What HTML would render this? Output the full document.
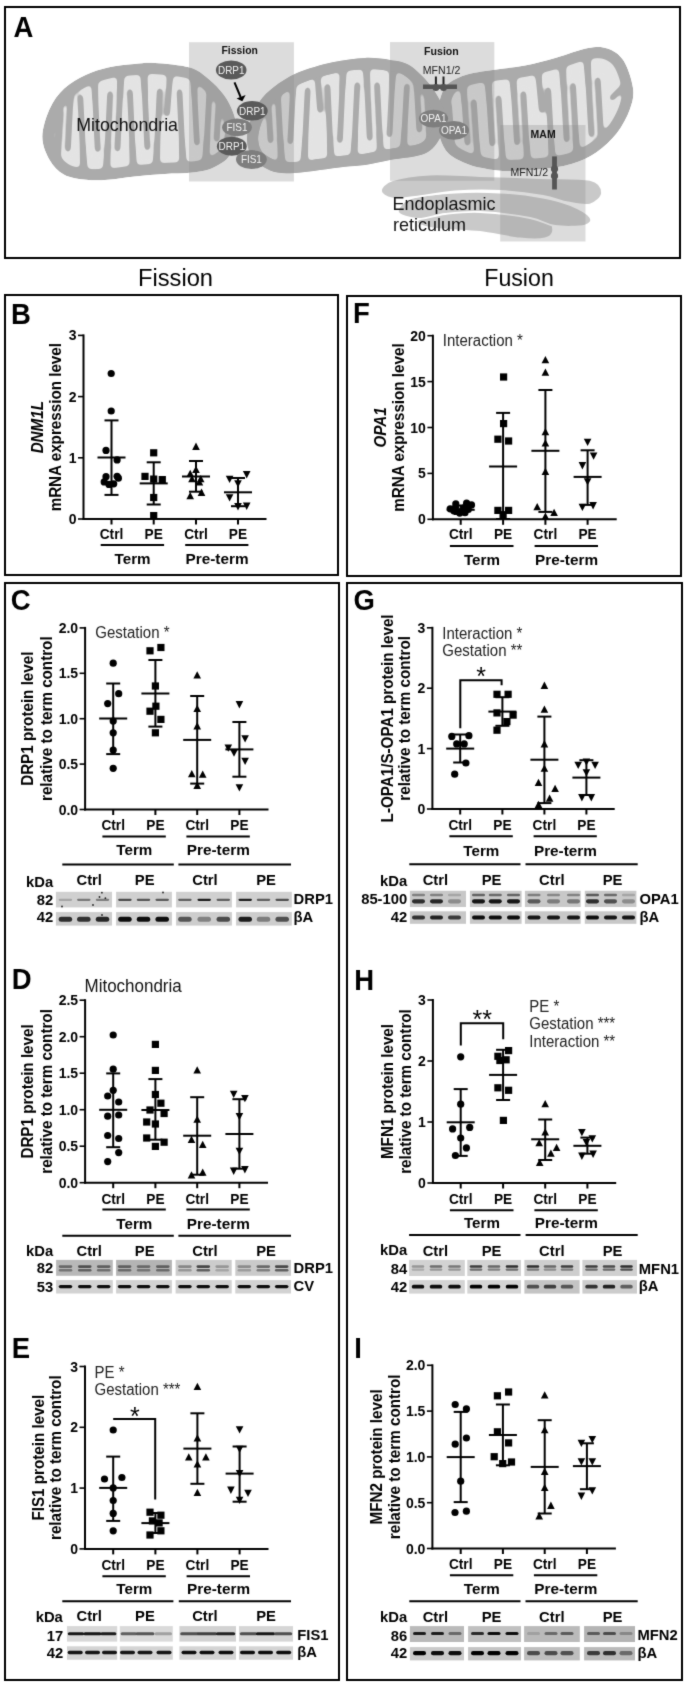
<!DOCTYPE html><html><head><meta charset="utf-8"><style>html,body{margin:0;padding:0;background:#fff;}svg{display:block;}#w{width:685px;height:1683px;overflow:hidden;will-change:transform;}</style></head><body><div id="w">
<svg width="685" height="1683" viewBox="0 0 685 1683" font-family='"Liberation Sans", sans-serif'>
<defs><filter id="gb" color-interpolation-filters="sRGB" x="0" y="0" width="685" height="1683" filterUnits="userSpaceOnUse"><feConvolveMatrix order="3" kernelMatrix="0.02 0.08 0.02 0.08 0.6 0.08 0.02 0.08 0.02" edgeMode="duplicate"/></filter></defs>
<g filter="url(#gb)">
<rect width="685" height="1683" fill="#fff"/>
<rect x="5.0" y="7.0" width="675" height="251" fill="none" stroke="#000" stroke-width="2"/>
<rect x="5.0" y="295.0" width="333" height="280" fill="none" stroke="#000" stroke-width="2"/>
<rect x="347.0" y="296.0" width="334" height="280" fill="none" stroke="#000" stroke-width="2"/>
<rect x="5.0" y="583.0" width="334" height="1097" fill="none" stroke="#000" stroke-width="2"/>
<rect x="347.0" y="583.0" width="335" height="1097" fill="none" stroke="#000" stroke-width="2"/>
<text transform="translate(13.6 36.5) scale(1 1.04)" font-size="27.5" font-weight="bold" text-anchor="start" fill="#000">A</text>
<text transform="translate(10.9 323.5) scale(1 1.04)" font-size="27.5" font-weight="bold" text-anchor="start" fill="#000">B</text>
<text transform="translate(353.1 323.3) scale(1 1.04)" font-size="27.5" font-weight="bold" text-anchor="start" fill="#000">F</text>
<text transform="translate(10.8 609.8) scale(1 1.04)" font-size="27.5" font-weight="bold" text-anchor="start" fill="#000">C</text>
<text transform="translate(353.4 609.8) scale(1 1.04)" font-size="27.5" font-weight="bold" text-anchor="start" fill="#000">G</text>
<text transform="translate(11.7 988.8) scale(1 1.04)" font-size="27.5" font-weight="bold" text-anchor="start" fill="#000">D</text>
<text transform="translate(354.2 989.8) scale(1 1.04)" font-size="27.5" font-weight="bold" text-anchor="start" fill="#000">H</text>
<text transform="translate(11.7 1357.8) scale(1 1.04)" font-size="27.5" font-weight="bold" text-anchor="start" fill="#000">E</text>
<text transform="translate(354.2 1357.5) scale(1 1.04)" font-size="27.5" font-weight="bold" text-anchor="start" fill="#000">I</text>
<text transform="translate(175.5 285.5) scale(1 1.04)" font-size="23" font-weight="normal" text-anchor="middle" fill="#000" textLength="75" lengthAdjust="spacingAndGlyphs">Fission</text>
<text transform="translate(519 285.5) scale(1 1.04)" font-size="23" font-weight="normal" text-anchor="middle" fill="#000" textLength="69.5" lengthAdjust="spacingAndGlyphs">Fusion</text>
<defs><filter id="smooth" x="0" y="0" width="685" height="300" filterUnits="userSpaceOnUse"><feGaussianBlur stdDeviation="2.0"/><feComponentTransfer><feFuncA type="linear" slope="6" intercept="-2.6"/></feComponentTransfer></filter></defs>
<path d="M417.0,222.0C417.0,219.8 421.2,216.8 430.0,215.0C438.8,213.2 458.3,211.9 470.0,211.0C481.7,210.1 490.8,209.3 500.0,209.5C509.2,209.7 517.0,210.5 525.0,212.0C533.0,213.5 543.3,215.2 548.0,218.5C552.7,221.8 553.5,228.2 553.0,231.5C552.5,234.8 550.5,237.3 545.0,238.5C539.5,239.7 530.8,239.6 520.0,238.5C509.2,237.4 491.7,233.4 480.0,232.0C468.3,230.6 458.3,230.7 450.0,230.0C441.7,229.3 435.5,229.3 430.0,228.0C424.5,226.7 417.0,224.2 417.0,222.0Z" fill="#c9c9c9" stroke="#fff" stroke-width="1.8"/>
<path d="M398.0,212.0C397.0,208.5 402.5,201.2 412.0,198.0C421.5,194.8 440.3,193.4 455.0,192.5C469.7,191.6 485.3,191.7 500.0,192.5C514.7,193.3 531.3,195.4 543.0,197.5C554.7,199.6 562.2,201.8 570.0,205.0C577.8,208.2 587.5,213.6 590.0,217.0C592.5,220.4 590.8,224.0 585.0,225.5C579.2,227.0 564.2,227.2 555.0,226.0C545.8,224.8 542.5,220.3 530.0,218.0C517.5,215.7 494.2,212.7 480.0,212.0C465.8,211.3 455.3,212.8 445.0,214.0C434.7,215.2 425.8,219.3 418.0,219.0C410.2,218.7 399.0,215.5 398.0,212.0Z" fill="#c9c9c9" stroke="#fff" stroke-width="1.8"/>
<path d="M381.0,191.0C381.0,188.0 383.8,183.2 392.0,180.5C400.2,177.8 415.3,175.2 430.0,174.5C444.7,173.8 461.7,175.4 480.0,176.0C498.3,176.6 521.7,177.3 540.0,178.0C558.3,178.7 579.7,177.5 590.0,180.0C600.3,182.5 602.0,188.9 602.0,193.0C602.0,197.1 595.7,202.9 590.0,204.5C584.3,206.1 575.8,203.9 568.0,202.5C560.2,201.1 554.3,197.9 543.0,196.0C531.7,194.1 514.7,191.8 500.0,191.0C485.3,190.2 469.2,190.5 455.0,191.5C440.8,192.5 425.5,195.8 415.0,197.0C404.5,198.2 397.7,199.5 392.0,198.5C386.3,197.5 381.0,194.0 381.0,191.0Z" fill="#c9c9c9" stroke="#fff" stroke-width="1.8"/>
<clipPath id="mL"><path d="M42.3,136.8C42.3,128.3 46.0,117.0 49.6,109.0C53.2,101.0 58.1,94.3 64.2,88.6C70.3,82.9 78.8,78.2 86.1,74.7C93.4,71.2 100.0,69.2 108.0,67.4C116.0,65.6 126.5,64.8 134.3,64.0C142.1,63.2 145.7,62.3 155.0,62.9C164.3,63.5 181.2,64.9 190.0,67.5C198.8,70.1 202.3,73.9 208.0,78.5C213.7,83.1 219.8,89.4 224.0,95.0C228.2,100.6 230.9,106.5 233.0,112.0C235.1,117.5 236.3,122.5 236.5,128.0C236.7,133.5 235.3,140.2 234.0,145.0C232.7,149.8 230.8,153.8 228.5,157.0C226.2,160.2 223.4,161.9 220.0,164.0C216.6,166.1 213.0,168.2 208.0,169.7C203.0,171.2 197.2,172.1 190.0,172.8C182.8,173.5 174.2,173.4 165.0,174.0C155.8,174.6 144.5,175.5 135.0,176.5C125.5,177.5 116.2,179.2 108.0,179.8C99.8,180.4 93.4,180.7 86.1,179.8C78.8,179.0 70.3,178.0 64.2,174.7C58.1,171.4 53.2,166.3 49.6,160.0C46.0,153.7 42.3,145.3 42.3,136.8Z"/></clipPath>
<mask id="mLm" maskUnits="userSpaceOnUse" x="0" y="0" width="685" height="300"><path d="M42.3,136.8C42.3,128.3 46.0,117.0 49.6,109.0C53.2,101.0 58.1,94.3 64.2,88.6C70.3,82.9 78.8,78.2 86.1,74.7C93.4,71.2 100.0,69.2 108.0,67.4C116.0,65.6 126.5,64.8 134.3,64.0C142.1,63.2 145.7,62.3 155.0,62.9C164.3,63.5 181.2,64.9 190.0,67.5C198.8,70.1 202.3,73.9 208.0,78.5C213.7,83.1 219.8,89.4 224.0,95.0C228.2,100.6 230.9,106.5 233.0,112.0C235.1,117.5 236.3,122.5 236.5,128.0C236.7,133.5 235.3,140.2 234.0,145.0C232.7,149.8 230.8,153.8 228.5,157.0C226.2,160.2 223.4,161.9 220.0,164.0C216.6,166.1 213.0,168.2 208.0,169.7C203.0,171.2 197.2,172.1 190.0,172.8C182.8,173.5 174.2,173.4 165.0,174.0C155.8,174.6 144.5,175.5 135.0,176.5C125.5,177.5 116.2,179.2 108.0,179.8C99.8,180.4 93.4,180.7 86.1,179.8C78.8,179.0 70.3,178.0 64.2,174.7C58.1,171.4 53.2,166.3 49.6,160.0C46.0,153.7 42.3,145.3 42.3,136.8Z" fill="#fff" stroke="#000" stroke-width="22"/>
<g stroke="#000" stroke-width="5.6" stroke-linecap="round" fill="none">
<path d="M56.5,176.5L60.5,111.3"/>
<path d="M71.9,70.6L67.9,149.5"/>
<path d="M84.3,178.7L80.3,96.7"/>
<path d="M93.7,65.3L97.7,149.8"/>
<path d="M106.1,179.5L110.1,93.2"/>
<path d="M121.5,61.9L117.5,149.3"/>
<path d="M133.9,178.9L129.9,91.2"/>
<path d="M143.3,60.5L147.3,148.0"/>
<path d="M155.7,177.0L159.7,90.5"/>
<path d="M171.1,61.1L167.1,114.1"/>
<path d="M183.5,173.8L179.5,91.2"/>
<path d="M192.9,63.7L196.9,143.3"/>
<path d="M205.3,169.2L209.3,93.3"/>
<path d="M220.7,68.2L216.7,139.7"/>
</g><g fill="#000">
<path d="M60.5,176.8L61.0,149.3L55.4,148.9L52.5,176.3Z"/>
<path d="M67.9,70.4L67.4,103.6L73.0,103.9L75.9,70.8Z"/>
<path d="M88.3,178.5L85.4,144.1L79.8,144.4L80.3,178.9Z"/>
<path d="M89.7,65.5L92.6,100.9L98.2,100.7L97.7,65.1Z"/>
<path d="M110.1,179.7L110.6,143.4L105.0,143.1L102.1,179.3Z"/>
<path d="M117.5,61.8L117.0,98.5L122.6,98.8L125.5,62.1Z"/>
<path d="M137.9,178.8L135.0,142.0L129.4,142.2L129.9,179.1Z"/>
<path d="M139.3,60.7L142.2,97.4L147.8,97.2L147.3,60.4Z"/>
<path d="M159.7,177.2L160.2,140.8L154.6,140.6L151.7,176.9Z"/>
<path d="M167.1,60.8L166.6,83.2L172.2,83.6L175.1,61.4Z"/>
<path d="M187.5,173.6L184.6,139.0L179.0,139.2L179.5,174.0Z"/>
<path d="M188.9,63.9L191.8,97.2L197.4,96.9L196.9,63.5Z"/>
<path d="M209.3,169.4L209.8,137.4L204.2,137.2L201.3,169.0Z"/>
<path d="M216.7,67.9L216.2,98.1L221.8,98.4L224.7,68.4Z"/>
</g></mask>
<g clip-path="url(#mL)">
<path d="M42.3,136.8C42.3,128.3 46.0,117.0 49.6,109.0C53.2,101.0 58.1,94.3 64.2,88.6C70.3,82.9 78.8,78.2 86.1,74.7C93.4,71.2 100.0,69.2 108.0,67.4C116.0,65.6 126.5,64.8 134.3,64.0C142.1,63.2 145.7,62.3 155.0,62.9C164.3,63.5 181.2,64.9 190.0,67.5C198.8,70.1 202.3,73.9 208.0,78.5C213.7,83.1 219.8,89.4 224.0,95.0C228.2,100.6 230.9,106.5 233.0,112.0C235.1,117.5 236.3,122.5 236.5,128.0C236.7,133.5 235.3,140.2 234.0,145.0C232.7,149.8 230.8,153.8 228.5,157.0C226.2,160.2 223.4,161.9 220.0,164.0C216.6,166.1 213.0,168.2 208.0,169.7C203.0,171.2 197.2,172.1 190.0,172.8C182.8,173.5 174.2,173.4 165.0,174.0C155.8,174.6 144.5,175.5 135.0,176.5C125.5,177.5 116.2,179.2 108.0,179.8C99.8,180.4 93.4,180.7 86.1,179.8C78.8,179.0 70.3,178.0 64.2,174.7C58.1,171.4 53.2,166.3 49.6,160.0C46.0,153.7 42.3,145.3 42.3,136.8Z" fill="#ababab"/>
<g filter="url(#smooth)"><g mask="url(#mLm)"><rect x="0" y="30" width="685" height="170" fill="#e3e3e3"/></g></g>
</g>
<clipPath id="mM"><path d="M247.0,140.0C246.8,133.7 248.8,125.5 251.0,119.0C253.2,112.5 256.2,106.3 260.0,101.0C263.8,95.7 267.7,91.7 274.0,87.0C280.3,82.3 287.8,76.9 297.6,72.8C307.4,68.7 321.4,64.8 332.6,62.3C343.8,59.8 355.4,58.3 365.0,57.9C374.6,57.5 382.8,58.8 390.0,59.9C397.2,61.0 402.2,61.3 408.0,64.5C413.8,67.7 420.0,73.6 425.0,79.0C430.0,84.4 434.5,90.5 438.0,97.0C441.5,103.5 445.7,111.2 446.0,118.0C446.3,124.8 443.5,132.1 440.0,138.0C436.5,143.9 433.3,149.8 425.0,153.5C416.7,157.2 400.0,158.1 390.0,160.0C380.0,161.9 372.5,163.9 365.0,165.0C357.5,166.1 352.5,165.9 345.0,166.7C337.5,167.5 328.3,168.9 320.0,170.0C311.7,171.1 302.1,172.6 295.0,173.0C287.9,173.4 282.9,173.6 277.6,172.6C272.4,171.6 267.8,169.6 263.5,167.0C259.2,164.4 254.8,161.5 252.0,157.0C249.2,152.5 247.2,146.3 247.0,140.0Z"/></clipPath>
<mask id="mMm" maskUnits="userSpaceOnUse" x="0" y="0" width="685" height="300"><path d="M247.0,140.0C246.8,133.7 248.8,125.5 251.0,119.0C253.2,112.5 256.2,106.3 260.0,101.0C263.8,95.7 267.7,91.7 274.0,87.0C280.3,82.3 287.8,76.9 297.6,72.8C307.4,68.7 321.4,64.8 332.6,62.3C343.8,59.8 355.4,58.3 365.0,57.9C374.6,57.5 382.8,58.8 390.0,59.9C397.2,61.0 402.2,61.3 408.0,64.5C413.8,67.7 420.0,73.6 425.0,79.0C430.0,84.4 434.5,90.5 438.0,97.0C441.5,103.5 445.7,111.2 446.0,118.0C446.3,124.8 443.5,132.1 440.0,138.0C436.5,143.9 433.3,149.8 425.0,153.5C416.7,157.2 400.0,158.1 390.0,160.0C380.0,161.9 372.5,163.9 365.0,165.0C357.5,166.1 352.5,165.9 345.0,166.7C337.5,167.5 328.3,168.9 320.0,170.0C311.7,171.1 302.1,172.6 295.0,173.0C287.9,173.4 282.9,173.6 277.6,172.6C272.4,171.6 267.8,169.6 263.5,167.0C259.2,164.4 254.8,161.5 252.0,157.0C249.2,152.5 247.2,146.3 247.0,140.0Z" fill="#fff" stroke="#000" stroke-width="22"/>
<g stroke="#000" stroke-width="5.6" stroke-linecap="round" fill="none">
<path d="M266.5,72.3L270.5,141.1"/>
<path d="M281.9,169.0L277.9,95.0"/>
<path d="M294.3,64.0L290.3,142.2"/>
<path d="M303.7,171.1L307.7,89.6"/>
<path d="M316.1,58.3L320.1,110.7"/>
<path d="M331.5,171.3L327.5,86.0"/>
<path d="M343.9,55.2L339.9,140.9"/>
<path d="M353.3,169.6L357.3,84.2"/>
<path d="M365.7,54.6L369.7,138.6"/>
<path d="M381.1,165.8L377.1,84.2"/>
<path d="M393.5,56.7L389.5,135.1"/>
<path d="M402.9,160.1L406.9,85.9"/>
<path d="M415.3,61.3L419.3,130.4"/>
<path d="M430.7,152.4L426.7,89.3"/>
</g><g fill="#000">
<path d="M262.5,72.5L265.4,101.4L271.0,101.0L270.5,72.0Z"/>
<path d="M285.9,168.8L283.0,137.8L277.4,138.1L277.9,169.2Z"/>
<path d="M290.3,63.8L289.8,96.7L295.4,97.0L298.3,64.2Z"/>
<path d="M307.7,171.3L308.2,137.0L302.6,136.8L299.7,171.0Z"/>
<path d="M312.1,58.6L315.0,80.5L320.6,80.1L320.1,58.0Z"/>
<path d="M335.5,171.2L332.6,135.4L327.0,135.6L327.5,171.5Z"/>
<path d="M339.9,55.0L339.4,91.1L345.0,91.3L347.9,55.3Z"/>
<path d="M357.3,169.7L357.8,133.8L352.2,133.6L349.3,169.4Z"/>
<path d="M361.7,54.8L364.6,90.0L370.2,89.7L369.7,54.4Z"/>
<path d="M385.1,165.6L382.2,131.4L376.6,131.7L377.1,166.0Z"/>
<path d="M389.5,56.4L389.0,89.4L394.6,89.7L397.5,56.9Z"/>
<path d="M406.9,160.3L407.4,129.1L401.8,128.8L398.9,159.9Z"/>
<path d="M411.3,61.5L414.2,90.5L419.8,90.1L419.3,61.0Z"/>
<path d="M434.7,152.2L431.8,125.7L426.2,126.1L426.7,152.7Z"/>
</g></mask>
<g clip-path="url(#mM)">
<path d="M247.0,140.0C246.8,133.7 248.8,125.5 251.0,119.0C253.2,112.5 256.2,106.3 260.0,101.0C263.8,95.7 267.7,91.7 274.0,87.0C280.3,82.3 287.8,76.9 297.6,72.8C307.4,68.7 321.4,64.8 332.6,62.3C343.8,59.8 355.4,58.3 365.0,57.9C374.6,57.5 382.8,58.8 390.0,59.9C397.2,61.0 402.2,61.3 408.0,64.5C413.8,67.7 420.0,73.6 425.0,79.0C430.0,84.4 434.5,90.5 438.0,97.0C441.5,103.5 445.7,111.2 446.0,118.0C446.3,124.8 443.5,132.1 440.0,138.0C436.5,143.9 433.3,149.8 425.0,153.5C416.7,157.2 400.0,158.1 390.0,160.0C380.0,161.9 372.5,163.9 365.0,165.0C357.5,166.1 352.5,165.9 345.0,166.7C337.5,167.5 328.3,168.9 320.0,170.0C311.7,171.1 302.1,172.6 295.0,173.0C287.9,173.4 282.9,173.6 277.6,172.6C272.4,171.6 267.8,169.6 263.5,167.0C259.2,164.4 254.8,161.5 252.0,157.0C249.2,152.5 247.2,146.3 247.0,140.0Z" fill="#ababab"/>
<g filter="url(#smooth)"><g mask="url(#mMm)"><rect x="0" y="30" width="685" height="170" fill="#e3e3e3"/></g></g>
</g>
<clipPath id="mR"><path d="M437.0,118.0C437.2,111.0 439.0,101.8 441.0,96.0C443.0,90.2 444.5,86.6 449.0,83.0C453.5,79.4 460.1,76.5 468.0,74.2C475.9,71.9 486.9,70.8 496.4,69.4C505.9,68.0 515.0,67.5 524.9,65.6C534.8,63.6 545.5,60.6 556.0,57.7C566.5,54.8 579.6,49.5 588.2,48.0C596.8,46.5 601.5,46.4 607.4,48.5C613.3,50.6 619.2,53.9 623.5,60.5C627.8,67.1 631.9,79.9 633.0,88.0C634.1,96.1 632.7,101.5 630.0,109.0C627.3,116.5 622.6,125.8 617.0,133.0C611.4,140.2 603.7,147.3 596.2,152.4C588.7,157.5 581.5,160.9 572.1,163.7C562.7,166.5 551.0,168.1 540.0,169.3C529.0,170.5 514.8,171.1 506.0,171.0C497.2,170.9 493.3,170.1 487.0,169.0C480.7,167.9 474.3,166.8 468.0,164.3C461.7,161.8 453.7,158.4 449.0,154.0C444.3,149.6 442.0,144.0 440.0,138.0C438.0,132.0 436.8,125.0 437.0,118.0Z"/></clipPath>
<mask id="mRm" maskUnits="userSpaceOnUse" x="0" y="0" width="685" height="300"><path d="M437.0,118.0C437.2,111.0 439.0,101.8 441.0,96.0C443.0,90.2 444.5,86.6 449.0,83.0C453.5,79.4 460.1,76.5 468.0,74.2C475.9,71.9 486.9,70.8 496.4,69.4C505.9,68.0 515.0,67.5 524.9,65.6C534.8,63.6 545.5,60.6 556.0,57.7C566.5,54.8 579.6,49.5 588.2,48.0C596.8,46.5 601.5,46.4 607.4,48.5C613.3,50.6 619.2,53.9 623.5,60.5C627.8,67.1 631.9,79.9 633.0,88.0C634.1,96.1 632.7,101.5 630.0,109.0C627.3,116.5 622.6,125.8 617.0,133.0C611.4,140.2 603.7,147.3 596.2,152.4C588.7,157.5 581.5,160.9 572.1,163.7C562.7,166.5 551.0,168.1 540.0,169.3C529.0,170.5 514.8,171.1 506.0,171.0C497.2,170.9 493.3,170.1 487.0,169.0C480.7,167.9 474.3,166.8 468.0,164.3C461.7,161.8 453.7,158.4 449.0,154.0C444.3,149.6 442.0,144.0 440.0,138.0C438.0,132.0 436.8,125.0 437.0,118.0Z" fill="#fff" stroke="#000" stroke-width="22"/>
<g stroke="#000" stroke-width="5.6" stroke-linecap="round" fill="none">
<path d="M453.8,168.9L449.0,104.7"/>
<path d="M462.6,75.6L467.4,143.5"/>
<path d="M478.6,172.4L473.8,101.4"/>
<path d="M487.4,70.7L492.2,144.3"/>
<path d="M503.4,173.5L498.6,97.6"/>
<path d="M512.2,65.7L517.0,143.2"/>
<path d="M528.2,172.1L523.4,93.4"/>
<path d="M537.0,60.7L541.8,110.7"/>
<path d="M553.0,173.1L548.2,89.6"/>
<path d="M561.8,55.8L566.6,140.2"/>
<path d="M577.8,169.6L573.0,85.0"/>
<path d="M586.6,50.8L591.4,134.9"/>
<path d="M602.6,162.4L597.8,79.6"/>
<path d="M640.0,70.0L612.0,98.0"/>
<path d="M600.0,175.0L612.0,128.0"/>
</g><g fill="#000">
<path d="M457.8,168.6L454.6,141.7L449.0,142.1L449.8,169.2Z"/>
<path d="M458.6,75.9L461.8,104.3L467.4,103.9L466.6,75.3Z"/>
<path d="M482.6,172.2L479.4,142.4L473.8,142.8L474.6,172.7Z"/>
<path d="M483.4,70.9L486.6,101.8L492.2,101.4L491.4,70.4Z"/>
<path d="M507.4,173.2L504.2,141.5L498.6,141.8L499.4,173.7Z"/>
<path d="M508.2,65.9L511.4,98.4L517.0,98.1L516.2,65.5Z"/>
<path d="M532.2,171.9L529.0,138.9L523.4,139.2L524.2,172.3Z"/>
<path d="M533.0,61.1L536.2,82.0L541.8,81.5L541.0,60.4Z"/>
<path d="M557.0,172.9L553.8,137.9L548.2,138.2L549.0,173.4Z"/>
<path d="M557.8,56.0L561.0,91.4L566.6,91.1L565.8,55.6Z"/>
<path d="M581.8,169.4L578.6,133.9L573.0,134.2L573.8,169.8Z"/>
<path d="M582.6,51.0L585.8,86.3L591.4,86.0L590.6,50.6Z"/>
<path d="M606.6,162.2L603.4,127.4L597.8,127.8L598.6,162.6Z"/>
<path d="M637.2,67.2L626.3,79.8L630.2,83.7L642.8,72.8Z"/>
<path d="M603.9,176.0L607.8,156.0L602.3,154.6L596.1,174.0Z"/>
</g></mask>
<g clip-path="url(#mR)">
<path d="M437.0,118.0C437.2,111.0 439.0,101.8 441.0,96.0C443.0,90.2 444.5,86.6 449.0,83.0C453.5,79.4 460.1,76.5 468.0,74.2C475.9,71.9 486.9,70.8 496.4,69.4C505.9,68.0 515.0,67.5 524.9,65.6C534.8,63.6 545.5,60.6 556.0,57.7C566.5,54.8 579.6,49.5 588.2,48.0C596.8,46.5 601.5,46.4 607.4,48.5C613.3,50.6 619.2,53.9 623.5,60.5C627.8,67.1 631.9,79.9 633.0,88.0C634.1,96.1 632.7,101.5 630.0,109.0C627.3,116.5 622.6,125.8 617.0,133.0C611.4,140.2 603.7,147.3 596.2,152.4C588.7,157.5 581.5,160.9 572.1,163.7C562.7,166.5 551.0,168.1 540.0,169.3C529.0,170.5 514.8,171.1 506.0,171.0C497.2,170.9 493.3,170.1 487.0,169.0C480.7,167.9 474.3,166.8 468.0,164.3C461.7,161.8 453.7,158.4 449.0,154.0C444.3,149.6 442.0,144.0 440.0,138.0C438.0,132.0 436.8,125.0 437.0,118.0Z" fill="#ababab"/>
<g filter="url(#smooth)"><g mask="url(#mRm)"><rect x="0" y="30" width="685" height="170" fill="#e3e3e3"/></g></g>
</g>
<g clip-path="url(#mM)"><path d="M247.0,140.0C246.8,133.7 248.8,125.5 251.0,119.0C253.2,112.5 256.2,106.3 260.0,101.0C263.8,95.7 267.7,91.7 274.0,87.0C280.3,82.3 287.8,76.9 297.6,72.8C307.4,68.7 321.4,64.8 332.6,62.3C343.8,59.8 355.4,58.3 365.0,57.9C374.6,57.5 382.8,58.8 390.0,59.9C397.2,61.0 402.2,61.3 408.0,64.5C413.8,67.7 420.0,73.6 425.0,79.0C430.0,84.4 434.5,90.5 438.0,97.0C441.5,103.5 445.7,111.2 446.0,118.0C446.3,124.8 443.5,132.1 440.0,138.0C436.5,143.9 433.3,149.8 425.0,153.5C416.7,157.2 400.0,158.1 390.0,160.0C380.0,161.9 372.5,163.9 365.0,165.0C357.5,166.1 352.5,165.9 345.0,166.7C337.5,167.5 328.3,168.9 320.0,170.0C311.7,171.1 302.1,172.6 295.0,173.0C287.9,173.4 282.9,173.6 277.6,172.6C272.4,171.6 267.8,169.6 263.5,167.0C259.2,164.4 254.8,161.5 252.0,157.0C249.2,152.5 247.2,146.3 247.0,140.0Z" fill="none" stroke="#ababab" stroke-width="22"/></g>
<rect x="189" y="42.2" width="104.9" height="139.3" fill="rgba(140,140,140,0.30)"/>
<rect x="390" y="42.1" width="104.3" height="138.7" fill="rgba(140,140,140,0.30)"/>
<rect x="500.2" y="125" width="85.3" height="116.5" fill="rgba(140,140,140,0.30)"/>
<text transform="translate(76.2 130.6) scale(1 1.04)" font-size="17.8" font-weight="normal" text-anchor="start" fill="#111">Mitochondria</text>
<text transform="translate(221.5 54.4) scale(1 1.04)" font-size="10.5" font-weight="bold" text-anchor="start" fill="#111" textLength="36.3" lengthAdjust="spacingAndGlyphs">Fission</text>
<text transform="translate(424.1 54.7) scale(1 1.04)" font-size="10.5" font-weight="bold" text-anchor="start" fill="#111" textLength="34.7" lengthAdjust="spacingAndGlyphs">Fusion</text>
<text transform="translate(530.6 138.1) scale(1 1.04)" font-size="10.5" font-weight="bold" text-anchor="start" fill="#111" textLength="25" lengthAdjust="spacingAndGlyphs">MAM</text>
<text transform="translate(392.4 210.4) scale(1 1.04)" font-size="18" font-weight="normal" text-anchor="start" fill="#111">Endoplasmic</text>
<text transform="translate(393 230.9) scale(1 1.04)" font-size="18" font-weight="normal" text-anchor="start" fill="#111">reticulum</text>
<path d="M234.5,82.4L240.6,97" stroke="#000" stroke-width="2" fill="none"/>
<path d="M242.3,101.3L236.6,98.6L245.6,95Z" fill="#000"/>
<ellipse cx="231.2" cy="70" rx="15.3" ry="9.6" fill="#5a5a5a"/>
<text transform="translate(231.2 73.7) scale(1 1.04)" font-size="10.2" font-weight="normal" text-anchor="middle" fill="#f2f2f2" textLength="26.5" lengthAdjust="spacingAndGlyphs">DRP1</text>
<ellipse cx="252.3" cy="110.8" rx="15.4" ry="9.7" fill="#5a5a5a"/>
<text transform="translate(252.3 114.5) scale(1 1.04)" font-size="10.2" font-weight="normal" text-anchor="middle" fill="#f2f2f2" textLength="26.5" lengthAdjust="spacingAndGlyphs">DRP1</text>
<ellipse cx="237" cy="127.3" rx="14.9" ry="8.9" fill="#7e7e7e"/>
<text transform="translate(237 131.0) scale(1 1.04)" font-size="10.2" font-weight="normal" text-anchor="middle" fill="#f2f2f2" textLength="21" lengthAdjust="spacingAndGlyphs">FIS1</text>
<ellipse cx="231.8" cy="146.2" rx="14.9" ry="9.5" fill="#5a5a5a"/>
<text transform="translate(231.8 149.89999999999998) scale(1 1.04)" font-size="10.2" font-weight="normal" text-anchor="middle" fill="#f2f2f2" textLength="26.5" lengthAdjust="spacingAndGlyphs">DRP1</text>
<ellipse cx="251.4" cy="159.5" rx="15.4" ry="9.4" fill="#7e7e7e"/>
<text transform="translate(251.4 163.2) scale(1 1.04)" font-size="10.2" font-weight="normal" text-anchor="middle" fill="#f2f2f2" textLength="21" lengthAdjust="spacingAndGlyphs">FIS1</text>
<text transform="translate(422.8 74) scale(1 1.04)" font-size="10.6" font-weight="normal" text-anchor="start" fill="#222" textLength="37.5" lengthAdjust="spacingAndGlyphs">MFN1/2</text>
<path d="M423,86.7H457" stroke="#555" stroke-width="4.4"/>
<path d="M435.9,76.5V86M443.5,76.5V86" stroke="#222" stroke-width="2"/>
<ellipse cx="435.9" cy="87.5" rx="3.4" ry="3.6" fill="#555"/><ellipse cx="443.5" cy="87.5" rx="3.4" ry="3.6" fill="#555"/>
<ellipse cx="433.5" cy="118.6" rx="14.6" ry="8.9" fill="#7e7e7e"/>
<text transform="translate(433.5 122.3) scale(1 1.04)" font-size="10.2" font-weight="normal" text-anchor="middle" fill="#f2f2f2" textLength="26" lengthAdjust="spacingAndGlyphs">OPA1</text>
<ellipse cx="454" cy="130.3" rx="15" ry="9.4" fill="#7e7e7e"/>
<text transform="translate(454 134.0) scale(1 1.04)" font-size="10.2" font-weight="normal" text-anchor="middle" fill="#f2f2f2" textLength="26" lengthAdjust="spacingAndGlyphs">OPA1</text>
<text transform="translate(510.5 176) scale(1 1.04)" font-size="10.6" font-weight="normal" text-anchor="start" fill="#222" textLength="37.5" lengthAdjust="spacingAndGlyphs">MFN1/2</text>
<path d="M554.5,156.4V189.5" stroke="#555" stroke-width="4.8"/>
<ellipse cx="554.5" cy="169" rx="3.6" ry="3.4" fill="#555"/><ellipse cx="554.5" cy="176" rx="3.6" ry="3.4" fill="#555"/>
<line x1="83.5" y1="334.4" x2="83.5" y2="520" stroke="#000" stroke-width="2"/>
<line x1="78.0" y1="519.0" x2="83.5" y2="519.0" stroke="#000" stroke-width="1.6"/>
<text transform="translate(76.5 524.0) scale(1 1.04)" font-size="14" font-weight="bold" text-anchor="end" fill="#000">0</text>
<line x1="78.0" y1="457.8" x2="83.5" y2="457.8" stroke="#000" stroke-width="1.6"/>
<text transform="translate(76.5 462.8) scale(1 1.04)" font-size="14" font-weight="bold" text-anchor="end" fill="#000">1</text>
<line x1="78.0" y1="396.6" x2="83.5" y2="396.6" stroke="#000" stroke-width="1.6"/>
<text transform="translate(76.5 401.6) scale(1 1.04)" font-size="14" font-weight="bold" text-anchor="end" fill="#000">2</text>
<line x1="78.0" y1="335.4" x2="83.5" y2="335.4" stroke="#000" stroke-width="1.6"/>
<text transform="translate(76.5 340.4) scale(1 1.04)" font-size="14" font-weight="bold" text-anchor="end" fill="#000">3</text>
<line x1="82.5" y1="519" x2="266.5" y2="519" stroke="#000" stroke-width="2"/>
<line x1="111.5" y1="519" x2="111.5" y2="524.5" stroke="#000" stroke-width="2"/>
<line x1="153.7" y1="519" x2="153.7" y2="524.5" stroke="#000" stroke-width="2"/>
<line x1="196" y1="519" x2="196" y2="524.5" stroke="#000" stroke-width="2"/>
<line x1="238" y1="519" x2="238" y2="524.5" stroke="#000" stroke-width="2"/>
<text transform="translate(111.5 538.5) scale(1 1.04)" font-size="13.7" font-weight="bold" text-anchor="middle" fill="#000">Ctrl</text>
<text transform="translate(153.7 538.5) scale(1 1.04)" font-size="13.7" font-weight="bold" text-anchor="middle" fill="#000">PE</text>
<text transform="translate(196 538.5) scale(1 1.04)" font-size="13.7" font-weight="bold" text-anchor="middle" fill="#000">Ctrl</text>
<text transform="translate(238 538.5) scale(1 1.04)" font-size="13.7" font-weight="bold" text-anchor="middle" fill="#000">PE</text>
<line x1="100.7" y1="545" x2="164.1" y2="545" stroke="#000" stroke-width="2"/>
<line x1="185.2" y1="545" x2="248.4" y2="545" stroke="#000" stroke-width="2"/>
<text transform="translate(132.6 564) scale(1 1.04)" font-size="14.5" font-weight="bold" text-anchor="middle" fill="#000" textLength="36" lengthAdjust="spacingAndGlyphs">Term</text>
<text transform="translate(217.0 564) scale(1 1.04)" font-size="14.5" font-weight="bold" text-anchor="middle" fill="#000" textLength="63" lengthAdjust="spacingAndGlyphs">Pre-term</text>
<circle cx="106" cy="450.4" r="3.6"/>
<circle cx="117.1" cy="459.9" r="3.6"/>
<circle cx="106" cy="476.7" r="3.6"/>
<circle cx="117.1" cy="476.3" r="3.6"/>
<circle cx="118.4" cy="478.2" r="3.6"/>
<circle cx="104.2" cy="481.9" r="3.6"/>
<circle cx="109" cy="484.4" r="3.6"/>
<circle cx="113.7" cy="483.8" r="3.6"/>
<circle cx="111.2" cy="373.5" r="3.6"/>
<circle cx="111.2" cy="411" r="3.6"/>
<line x1="111.5" y1="420.4" x2="111.5" y2="494.9" stroke="#000" stroke-width="2"/>
<line x1="104.5" y1="420.4" x2="118.5" y2="420.4" stroke="#000" stroke-width="2"/>
<line x1="104.5" y1="494.9" x2="118.5" y2="494.9" stroke="#000" stroke-width="2"/>
<line x1="97.5" y1="457.5" x2="125.5" y2="457.5" stroke="#000" stroke-width="2"/>
<rect x="150.1" y="449.2" width="7.2" height="7.2"/>
<rect x="141.4" y="472.79999999999995" width="7.2" height="7.2"/>
<rect x="150.1" y="475.5" width="7.2" height="7.2"/>
<rect x="158.70000000000002" y="476.0" width="7.2" height="7.2"/>
<rect x="150.1" y="493.9" width="7.2" height="7.2"/>
<rect x="150.1" y="512.0" width="7.2" height="7.2"/>
<line x1="153.7" y1="462.3" x2="153.7" y2="504.5" stroke="#000" stroke-width="2"/>
<line x1="146.7" y1="462.3" x2="160.7" y2="462.3" stroke="#000" stroke-width="2"/>
<line x1="146.7" y1="504.5" x2="160.7" y2="504.5" stroke="#000" stroke-width="2"/>
<line x1="139.7" y1="483.4" x2="167.7" y2="483.4" stroke="#000" stroke-width="2"/>
<path d="M192.20,449.90L199.80,449.90L196.00,442.60Z"/>
<path d="M192.20,473.00L199.80,473.00L196.00,465.70Z"/>
<path d="M186.40,477.00L194.00,477.00L190.20,469.70Z"/>
<path d="M188.20,482.20L195.80,482.20L192.00,474.90Z"/>
<path d="M196.90,482.20L204.50,482.20L200.70,474.90Z"/>
<path d="M195.60,485.60L203.20,485.60L199.40,478.30Z"/>
<path d="M186.40,499.30L194.00,499.30L190.20,492.00Z"/>
<path d="M197.70,495.90L205.30,495.90L201.50,488.60Z"/>
<line x1="196" y1="461" x2="196" y2="491.7" stroke="#000" stroke-width="2"/>
<line x1="189" y1="461" x2="203" y2="461" stroke="#000" stroke-width="2"/>
<line x1="189" y1="491.7" x2="203" y2="491.7" stroke="#000" stroke-width="2"/>
<line x1="182" y1="476.5" x2="210" y2="476.5" stroke="#000" stroke-width="2"/>
<path d="M225.80,475.80L233.40,475.80L229.60,483.10Z"/>
<path d="M242.90,471.10L250.50,471.10L246.70,478.40Z"/>
<path d="M234.20,480.30L241.80,480.30L238.00,487.60Z"/>
<path d="M225.80,494.20L233.40,494.20L229.60,501.50Z"/>
<path d="M234.20,503.10L241.80,503.10L238.00,510.40Z"/>
<path d="M242.90,502.60L250.50,502.60L246.70,509.90Z"/>
<line x1="238" y1="478" x2="238" y2="506.2" stroke="#000" stroke-width="2"/>
<line x1="231" y1="478" x2="245" y2="478" stroke="#000" stroke-width="2"/>
<line x1="231" y1="506.2" x2="245" y2="506.2" stroke="#000" stroke-width="2"/>
<line x1="224" y1="492.3" x2="252" y2="492.3" stroke="#000" stroke-width="2"/>
<text transform="translate(43,427.2) rotate(-90) scale(1 1.04)" font-size="15.2" font-weight="bold" text-anchor="middle" font-style="italic">DNM1L</text>
<text transform="translate(61,427.2) rotate(-90) scale(1 1.04)" font-size="15.2" font-weight="bold" text-anchor="middle">mRNA expression level</text>
<line x1="432.9" y1="334.69999999999993" x2="432.9" y2="520.3" stroke="#000" stroke-width="2"/>
<line x1="427.4" y1="519.3" x2="432.9" y2="519.3" stroke="#000" stroke-width="1.6"/>
<text transform="translate(425.9 524.3) scale(1 1.04)" font-size="14" font-weight="bold" text-anchor="end" fill="#000">0</text>
<line x1="427.4" y1="473.4" x2="432.9" y2="473.4" stroke="#000" stroke-width="1.6"/>
<text transform="translate(425.9 478.4) scale(1 1.04)" font-size="14" font-weight="bold" text-anchor="end" fill="#000">5</text>
<line x1="427.4" y1="427.49999999999994" x2="432.9" y2="427.49999999999994" stroke="#000" stroke-width="1.6"/>
<text transform="translate(425.9 432.49999999999994) scale(1 1.04)" font-size="14" font-weight="bold" text-anchor="end" fill="#000">10</text>
<line x1="427.4" y1="381.59999999999997" x2="432.9" y2="381.59999999999997" stroke="#000" stroke-width="1.6"/>
<text transform="translate(425.9 386.59999999999997) scale(1 1.04)" font-size="14" font-weight="bold" text-anchor="end" fill="#000">15</text>
<line x1="427.4" y1="335.69999999999993" x2="432.9" y2="335.69999999999993" stroke="#000" stroke-width="1.6"/>
<text transform="translate(425.9 340.69999999999993) scale(1 1.04)" font-size="14" font-weight="bold" text-anchor="end" fill="#000">20</text>
<line x1="431.9" y1="519.3" x2="616.7" y2="519.3" stroke="#000" stroke-width="2"/>
<line x1="460.7" y1="519.3" x2="460.7" y2="524.8" stroke="#000" stroke-width="2"/>
<line x1="503.1" y1="519.3" x2="503.1" y2="524.8" stroke="#000" stroke-width="2"/>
<line x1="545.4" y1="519.3" x2="545.4" y2="524.8" stroke="#000" stroke-width="2"/>
<line x1="587.6" y1="519.3" x2="587.6" y2="524.8" stroke="#000" stroke-width="2"/>
<text transform="translate(460.7 539) scale(1 1.04)" font-size="13.7" font-weight="bold" text-anchor="middle" fill="#000">Ctrl</text>
<text transform="translate(503.1 539) scale(1 1.04)" font-size="13.7" font-weight="bold" text-anchor="middle" fill="#000">PE</text>
<text transform="translate(545.4 539) scale(1 1.04)" font-size="13.7" font-weight="bold" text-anchor="middle" fill="#000">Ctrl</text>
<text transform="translate(587.6 539) scale(1 1.04)" font-size="13.7" font-weight="bold" text-anchor="middle" fill="#000">PE</text>
<line x1="449.9" y1="546" x2="513.5" y2="546" stroke="#000" stroke-width="2"/>
<line x1="534.6" y1="546" x2="598.0" y2="546" stroke="#000" stroke-width="2"/>
<text transform="translate(481.9 564.7) scale(1 1.04)" font-size="14.5" font-weight="bold" text-anchor="middle" fill="#000" textLength="36" lengthAdjust="spacingAndGlyphs">Term</text>
<text transform="translate(566.5 564.7) scale(1 1.04)" font-size="14.5" font-weight="bold" text-anchor="middle" fill="#000" textLength="63" lengthAdjust="spacingAndGlyphs">Pre-term</text>
<circle cx="455.8" cy="503.9" r="3.6"/>
<circle cx="466.6" cy="503.2" r="3.6"/>
<circle cx="471.5" cy="504.9" r="3.6"/>
<circle cx="450.2" cy="508.8" r="3.6"/>
<circle cx="453.8" cy="510.8" r="3.6"/>
<circle cx="459.7" cy="513.1" r="3.6"/>
<circle cx="465" cy="512.7" r="3.6"/>
<circle cx="468.3" cy="509.5" r="3.6"/>
<circle cx="461.7" cy="511.1" r="3.6"/>
<circle cx="455.5" cy="507.5" r="3.6"/>
<circle cx="464.5" cy="507.5" r="3.6"/>
<line x1="460.7" y1="505.5" x2="460.7" y2="514" stroke="#000" stroke-width="2"/>
<line x1="453.7" y1="505.5" x2="467.7" y2="505.5" stroke="#000" stroke-width="2"/>
<line x1="453.7" y1="514" x2="467.7" y2="514" stroke="#000" stroke-width="2"/>
<line x1="446.7" y1="509.8" x2="474.7" y2="509.8" stroke="#000" stroke-width="2"/>
<rect x="500.0" y="373.4" width="7.2" height="7.2"/>
<rect x="500.0" y="420.0" width="7.2" height="7.2"/>
<rect x="494.29999999999995" y="435.59999999999997" width="7.2" height="7.2"/>
<rect x="505.0" y="437.4" width="7.2" height="7.2"/>
<rect x="494.29999999999995" y="506.79999999999995" width="7.2" height="7.2"/>
<rect x="505.0" y="506.79999999999995" width="7.2" height="7.2"/>
<rect x="499.5" y="511.1" width="7.2" height="7.2"/>
<line x1="503.1" y1="412.9" x2="503.1" y2="519" stroke="#000" stroke-width="2"/>
<line x1="496.1" y1="412.9" x2="510.1" y2="412.9" stroke="#000" stroke-width="2"/>
<line x1="496.1" y1="519" x2="510.1" y2="519" stroke="#000" stroke-width="2"/>
<line x1="489.1" y1="466.5" x2="517.1" y2="466.5" stroke="#000" stroke-width="2"/>
<path d="M541.60,363.30L549.20,363.30L545.40,356.00Z"/>
<path d="M541.60,375.70L549.20,375.70L545.40,368.40Z"/>
<path d="M541.60,435.30L549.20,435.30L545.40,428.00Z"/>
<path d="M541.60,446.50L549.20,446.50L545.40,439.20Z"/>
<path d="M541.60,475.00L549.20,475.00L545.40,467.70Z"/>
<path d="M533.40,510.20L541.00,510.20L537.20,502.90Z"/>
<path d="M550.30,516.00L557.90,516.00L554.10,508.70Z"/>
<path d="M541.60,519.70L549.20,519.70L545.40,512.40Z"/>
<line x1="545.4" y1="390" x2="545.4" y2="511.9" stroke="#000" stroke-width="2"/>
<line x1="538.4" y1="390" x2="552.4" y2="390" stroke="#000" stroke-width="2"/>
<line x1="538.4" y1="511.9" x2="552.4" y2="511.9" stroke="#000" stroke-width="2"/>
<line x1="531.4" y1="450.8" x2="559.4" y2="450.8" stroke="#000" stroke-width="2"/>
<path d="M583.80,438.80L591.40,438.80L587.60,446.10Z"/>
<path d="M589.80,452.40L597.40,452.40L593.60,459.70Z"/>
<path d="M578.60,462.10L586.20,462.10L582.40,469.40Z"/>
<path d="M583.80,478.20L591.40,478.20L587.60,485.50Z"/>
<path d="M578.60,503.80L586.20,503.80L582.40,511.10Z"/>
<path d="M589.30,502.10L596.90,502.10L593.10,509.40Z"/>
<line x1="587.6" y1="450.3" x2="587.6" y2="504.9" stroke="#000" stroke-width="2"/>
<line x1="580.6" y1="450.3" x2="594.6" y2="450.3" stroke="#000" stroke-width="2"/>
<line x1="580.6" y1="504.9" x2="594.6" y2="504.9" stroke="#000" stroke-width="2"/>
<line x1="573.6" y1="476.9" x2="601.6" y2="476.9" stroke="#000" stroke-width="2"/>
<text transform="translate(386,427.49999999999994) rotate(-90) scale(1 1.04)" font-size="15.2" font-weight="bold" text-anchor="middle" font-style="italic">OPA1</text>
<text transform="translate(404.3,427.49999999999994) rotate(-90) scale(1 1.04)" font-size="15.2" font-weight="bold" text-anchor="middle">mRNA expression level</text>
<text transform="translate(442.8 346.4) scale(1 1.04)" font-size="15" font-weight="normal" text-anchor="start" fill="#222">Interaction *</text>
<line x1="85.1" y1="626.9" x2="85.1" y2="810.5" stroke="#000" stroke-width="2"/>
<line x1="79.6" y1="809.5" x2="85.1" y2="809.5" stroke="#000" stroke-width="1.6"/>
<text transform="translate(78.1 814.5) scale(1 1.04)" font-size="14" font-weight="bold" text-anchor="end" fill="#000">0.0</text>
<line x1="79.6" y1="764.1" x2="85.1" y2="764.1" stroke="#000" stroke-width="1.6"/>
<text transform="translate(78.1 769.1) scale(1 1.04)" font-size="14" font-weight="bold" text-anchor="end" fill="#000">0.5</text>
<line x1="79.6" y1="718.7" x2="85.1" y2="718.7" stroke="#000" stroke-width="1.6"/>
<text transform="translate(78.1 723.7) scale(1 1.04)" font-size="14" font-weight="bold" text-anchor="end" fill="#000">1.0</text>
<line x1="79.6" y1="673.3" x2="85.1" y2="673.3" stroke="#000" stroke-width="1.6"/>
<text transform="translate(78.1 678.3) scale(1 1.04)" font-size="14" font-weight="bold" text-anchor="end" fill="#000">1.5</text>
<line x1="79.6" y1="627.9" x2="85.1" y2="627.9" stroke="#000" stroke-width="1.6"/>
<text transform="translate(78.1 632.9) scale(1 1.04)" font-size="14" font-weight="bold" text-anchor="end" fill="#000">2.0</text>
<line x1="84.1" y1="809.5" x2="268.5" y2="809.5" stroke="#000" stroke-width="2"/>
<line x1="113.2" y1="809.5" x2="113.2" y2="815.0" stroke="#000" stroke-width="2"/>
<line x1="155.4" y1="809.5" x2="155.4" y2="815.0" stroke="#000" stroke-width="2"/>
<line x1="197.2" y1="809.5" x2="197.2" y2="815.0" stroke="#000" stroke-width="2"/>
<line x1="239.4" y1="809.5" x2="239.4" y2="815.0" stroke="#000" stroke-width="2"/>
<text transform="translate(113.2 830.3) scale(1 1.04)" font-size="13.7" font-weight="bold" text-anchor="middle" fill="#000">Ctrl</text>
<text transform="translate(155.4 830.3) scale(1 1.04)" font-size="13.7" font-weight="bold" text-anchor="middle" fill="#000">PE</text>
<text transform="translate(197.2 830.3) scale(1 1.04)" font-size="13.7" font-weight="bold" text-anchor="middle" fill="#000">Ctrl</text>
<text transform="translate(239.4 830.3) scale(1 1.04)" font-size="13.7" font-weight="bold" text-anchor="middle" fill="#000">PE</text>
<line x1="102.4" y1="836.6" x2="165.8" y2="836.6" stroke="#000" stroke-width="2"/>
<line x1="186.39999999999998" y1="836.6" x2="249.8" y2="836.6" stroke="#000" stroke-width="2"/>
<text transform="translate(134.3 855.4) scale(1 1.04)" font-size="14.5" font-weight="bold" text-anchor="middle" fill="#000" textLength="36" lengthAdjust="spacingAndGlyphs">Term</text>
<text transform="translate(218.3 855.4) scale(1 1.04)" font-size="14.5" font-weight="bold" text-anchor="middle" fill="#000" textLength="63" lengthAdjust="spacingAndGlyphs">Pre-term</text>
<circle cx="113.2" cy="663.2" r="3.6"/>
<circle cx="118.7" cy="693.7" r="3.6"/>
<circle cx="107.7" cy="703.6" r="3.6"/>
<circle cx="113.2" cy="721.1" r="3.6"/>
<circle cx="113.2" cy="732.8" r="3.6"/>
<circle cx="113.2" cy="750.1" r="3.6"/>
<circle cx="113.2" cy="768.3" r="3.6"/>
<line x1="113.2" y1="683.5" x2="113.2" y2="754.1" stroke="#000" stroke-width="2"/>
<line x1="106.2" y1="683.5" x2="120.2" y2="683.5" stroke="#000" stroke-width="2"/>
<line x1="106.2" y1="754.1" x2="120.2" y2="754.1" stroke="#000" stroke-width="2"/>
<line x1="99.2" y1="718.5" x2="127.2" y2="718.5" stroke="#000" stroke-width="2"/>
<rect x="146.4" y="647.1999999999999" width="7.2" height="7.2"/>
<rect x="157.3" y="643.9" width="7.2" height="7.2"/>
<rect x="151.8" y="682.4" width="7.2" height="7.2"/>
<rect x="146.4" y="707.6" width="7.2" height="7.2"/>
<rect x="152.3" y="702.6" width="7.2" height="7.2"/>
<rect x="157.3" y="715.8" width="7.2" height="7.2"/>
<rect x="151.8" y="729.1999999999999" width="7.2" height="7.2"/>
<line x1="155.4" y1="660" x2="155.4" y2="726.6" stroke="#000" stroke-width="2"/>
<line x1="148.4" y1="660" x2="162.4" y2="660" stroke="#000" stroke-width="2"/>
<line x1="148.4" y1="726.6" x2="162.4" y2="726.6" stroke="#000" stroke-width="2"/>
<line x1="141.4" y1="693.5" x2="169.4" y2="693.5" stroke="#000" stroke-width="2"/>
<path d="M193.40,678.50L201.00,678.50L197.20,671.20Z"/>
<path d="M193.40,712.00L201.00,712.00L197.20,704.70Z"/>
<path d="M193.40,729.40L201.00,729.40L197.20,722.10Z"/>
<path d="M188.00,777.30L195.60,777.30L191.80,770.00Z"/>
<path d="M198.90,777.80L206.50,777.80L202.70,770.50Z"/>
<path d="M193.40,788.90L201.00,788.90L197.20,781.60Z"/>
<line x1="197.2" y1="696" x2="197.2" y2="783.6" stroke="#000" stroke-width="2"/>
<line x1="190.2" y1="696" x2="204.2" y2="696" stroke="#000" stroke-width="2"/>
<line x1="190.2" y1="783.6" x2="204.2" y2="783.6" stroke="#000" stroke-width="2"/>
<line x1="183.2" y1="739.9" x2="211.2" y2="739.9" stroke="#000" stroke-width="2"/>
<path d="M235.60,701.10L243.20,701.10L239.40,708.40Z"/>
<path d="M241.30,735.30L248.90,735.30L245.10,742.60Z"/>
<path d="M224.50,744.50L232.10,744.50L228.30,751.80Z"/>
<path d="M230.20,749.50L237.80,749.50L234.00,756.80Z"/>
<path d="M241.30,757.70L248.90,757.70L245.10,765.00Z"/>
<path d="M235.60,784.20L243.20,784.20L239.40,791.50Z"/>
<line x1="239.4" y1="722" x2="239.4" y2="776.7" stroke="#000" stroke-width="2"/>
<line x1="232.4" y1="722" x2="246.4" y2="722" stroke="#000" stroke-width="2"/>
<line x1="232.4" y1="776.7" x2="246.4" y2="776.7" stroke="#000" stroke-width="2"/>
<line x1="225.4" y1="749.4" x2="253.4" y2="749.4" stroke="#000" stroke-width="2"/>
<text transform="translate(33.4,718.7) rotate(-90) scale(1 1.04)" font-size="15.2" font-weight="bold" text-anchor="middle">DRP1 protein level</text>
<text transform="translate(52,718.7) rotate(-90) scale(1 1.04)" font-size="15.2" font-weight="bold" text-anchor="middle">relative to term control</text>
<text transform="translate(95.3 638.4) scale(1 1.04)" font-size="15" font-weight="normal" text-anchor="start" fill="#222">Gestation *</text>
<line x1="85.1" y1="999.2" x2="85.1" y2="1183.7" stroke="#000" stroke-width="2"/>
<line x1="79.6" y1="1182.7" x2="85.1" y2="1182.7" stroke="#000" stroke-width="1.6"/>
<text transform="translate(78.1 1187.7) scale(1 1.04)" font-size="14" font-weight="bold" text-anchor="end" fill="#000">0.0</text>
<line x1="79.6" y1="1146.2" x2="85.1" y2="1146.2" stroke="#000" stroke-width="1.6"/>
<text transform="translate(78.1 1151.2) scale(1 1.04)" font-size="14" font-weight="bold" text-anchor="end" fill="#000">0.5</text>
<line x1="79.6" y1="1109.7" x2="85.1" y2="1109.7" stroke="#000" stroke-width="1.6"/>
<text transform="translate(78.1 1114.7) scale(1 1.04)" font-size="14" font-weight="bold" text-anchor="end" fill="#000">1.0</text>
<line x1="79.6" y1="1073.2" x2="85.1" y2="1073.2" stroke="#000" stroke-width="1.6"/>
<text transform="translate(78.1 1078.2) scale(1 1.04)" font-size="14" font-weight="bold" text-anchor="end" fill="#000">1.5</text>
<line x1="79.6" y1="1036.7" x2="85.1" y2="1036.7" stroke="#000" stroke-width="1.6"/>
<text transform="translate(78.1 1041.7) scale(1 1.04)" font-size="14" font-weight="bold" text-anchor="end" fill="#000">2.0</text>
<line x1="79.6" y1="1000.2" x2="85.1" y2="1000.2" stroke="#000" stroke-width="1.6"/>
<text transform="translate(78.1 1005.2) scale(1 1.04)" font-size="14" font-weight="bold" text-anchor="end" fill="#000">2.5</text>
<line x1="84.1" y1="1182.7" x2="268" y2="1182.7" stroke="#000" stroke-width="2"/>
<line x1="113.2" y1="1182.7" x2="113.2" y2="1188.2" stroke="#000" stroke-width="2"/>
<line x1="155.4" y1="1182.7" x2="155.4" y2="1188.2" stroke="#000" stroke-width="2"/>
<line x1="197.2" y1="1182.7" x2="197.2" y2="1188.2" stroke="#000" stroke-width="2"/>
<line x1="239.4" y1="1182.7" x2="239.4" y2="1188.2" stroke="#000" stroke-width="2"/>
<text transform="translate(113.2 1203.7) scale(1 1.04)" font-size="13.7" font-weight="bold" text-anchor="middle" fill="#000">Ctrl</text>
<text transform="translate(155.4 1203.7) scale(1 1.04)" font-size="13.7" font-weight="bold" text-anchor="middle" fill="#000">PE</text>
<text transform="translate(197.2 1203.7) scale(1 1.04)" font-size="13.7" font-weight="bold" text-anchor="middle" fill="#000">Ctrl</text>
<text transform="translate(239.4 1203.7) scale(1 1.04)" font-size="13.7" font-weight="bold" text-anchor="middle" fill="#000">PE</text>
<line x1="102.4" y1="1209.5" x2="165.8" y2="1209.5" stroke="#000" stroke-width="2"/>
<line x1="186.39999999999998" y1="1209.5" x2="249.8" y2="1209.5" stroke="#000" stroke-width="2"/>
<text transform="translate(134.3 1228.6) scale(1 1.04)" font-size="14.5" font-weight="bold" text-anchor="middle" fill="#000" textLength="36" lengthAdjust="spacingAndGlyphs">Term</text>
<text transform="translate(218.3 1228.6) scale(1 1.04)" font-size="14.5" font-weight="bold" text-anchor="middle" fill="#000" textLength="63" lengthAdjust="spacingAndGlyphs">Pre-term</text>
<circle cx="113.2" cy="1035" r="3.6"/>
<circle cx="113.2" cy="1069.2" r="3.6"/>
<circle cx="113.2" cy="1090.3" r="3.6"/>
<circle cx="107.7" cy="1096" r="3.6"/>
<circle cx="118.7" cy="1102" r="3.6"/>
<circle cx="107.7" cy="1116.2" r="3.6"/>
<circle cx="118.7" cy="1115" r="3.6"/>
<circle cx="107.7" cy="1135.5" r="3.6"/>
<circle cx="118.7" cy="1138.5" r="3.6"/>
<circle cx="118.7" cy="1152.6" r="3.6"/>
<circle cx="107.7" cy="1161.6" r="3.6"/>
<line x1="113.2" y1="1073.4" x2="113.2" y2="1147.2" stroke="#000" stroke-width="2"/>
<line x1="106.2" y1="1073.4" x2="120.2" y2="1073.4" stroke="#000" stroke-width="2"/>
<line x1="106.2" y1="1147.2" x2="120.2" y2="1147.2" stroke="#000" stroke-width="2"/>
<line x1="99.2" y1="1109.8" x2="127.2" y2="1109.8" stroke="#000" stroke-width="2"/>
<rect x="151.8" y="1040.8000000000002" width="7.2" height="7.2"/>
<rect x="151.8" y="1066.8000000000002" width="7.2" height="7.2"/>
<rect x="151.8" y="1090.9" width="7.2" height="7.2"/>
<rect x="157.3" y="1099.6000000000001" width="7.2" height="7.2"/>
<rect x="146.4" y="1106.4" width="7.2" height="7.2"/>
<rect x="160.5" y="1109.9" width="7.2" height="7.2"/>
<rect x="143.1" y="1118.4" width="7.2" height="7.2"/>
<rect x="151.8" y="1120.4" width="7.2" height="7.2"/>
<rect x="143.1" y="1134.4" width="7.2" height="7.2"/>
<rect x="160.5" y="1138.6000000000001" width="7.2" height="7.2"/>
<rect x="151.8" y="1142.8000000000002" width="7.2" height="7.2"/>
<line x1="155.4" y1="1079.1" x2="155.4" y2="1139.7" stroke="#000" stroke-width="2"/>
<line x1="148.4" y1="1079.1" x2="162.4" y2="1079.1" stroke="#000" stroke-width="2"/>
<line x1="148.4" y1="1139.7" x2="162.4" y2="1139.7" stroke="#000" stroke-width="2"/>
<line x1="141.4" y1="1110" x2="169.4" y2="1110" stroke="#000" stroke-width="2"/>
<path d="M193.40,1073.50L201.00,1073.50L197.20,1066.20Z"/>
<path d="M193.40,1122.70L201.00,1122.70L197.20,1115.40Z"/>
<path d="M187.70,1143.00L195.30,1143.00L191.50,1135.70Z"/>
<path d="M198.90,1148.00L206.50,1148.00L202.70,1140.70Z"/>
<path d="M187.70,1178.50L195.30,1178.50L191.50,1171.20Z"/>
<path d="M198.90,1175.80L206.50,1175.80L202.70,1168.50Z"/>
<line x1="197.2" y1="1097.2" x2="197.2" y2="1174.7" stroke="#000" stroke-width="2"/>
<line x1="190.2" y1="1097.2" x2="204.2" y2="1097.2" stroke="#000" stroke-width="2"/>
<line x1="190.2" y1="1174.7" x2="204.2" y2="1174.7" stroke="#000" stroke-width="2"/>
<line x1="183.2" y1="1135.7" x2="211.2" y2="1135.7" stroke="#000" stroke-width="2"/>
<path d="M229.90,1090.70L237.50,1090.70L233.70,1098.00Z"/>
<path d="M241.10,1094.90L248.70,1094.90L244.90,1102.20Z"/>
<path d="M235.60,1113.00L243.20,1113.00L239.40,1120.30Z"/>
<path d="M235.60,1147.70L243.20,1147.70L239.40,1155.00Z"/>
<path d="M229.90,1167.60L237.50,1167.60L233.70,1174.90Z"/>
<path d="M241.10,1166.10L248.70,1166.10L244.90,1173.40Z"/>
<line x1="239.4" y1="1099.2" x2="239.4" y2="1168.7" stroke="#000" stroke-width="2"/>
<line x1="232.4" y1="1099.2" x2="246.4" y2="1099.2" stroke="#000" stroke-width="2"/>
<line x1="232.4" y1="1168.7" x2="246.4" y2="1168.7" stroke="#000" stroke-width="2"/>
<line x1="225.4" y1="1134" x2="253.4" y2="1134" stroke="#000" stroke-width="2"/>
<text transform="translate(33.4,1091.45) rotate(-90) scale(1 1.04)" font-size="15.2" font-weight="bold" text-anchor="middle">DRP1 protein level</text>
<text transform="translate(51.5,1091.45) rotate(-90) scale(1 1.04)" font-size="15.2" font-weight="bold" text-anchor="middle">relative to term control</text>
<text transform="translate(84.5 992.3) scale(1 1.04)" font-size="17" font-weight="normal" text-anchor="start" fill="#111">Mitochondria</text>
<line x1="85" y1="1365.5" x2="85" y2="1549.9" stroke="#000" stroke-width="2"/>
<line x1="79.5" y1="1548.9" x2="85" y2="1548.9" stroke="#000" stroke-width="1.6"/>
<text transform="translate(78 1553.9) scale(1 1.04)" font-size="14" font-weight="bold" text-anchor="end" fill="#000">0</text>
<line x1="79.5" y1="1488.1000000000001" x2="85" y2="1488.1000000000001" stroke="#000" stroke-width="1.6"/>
<text transform="translate(78 1493.1000000000001) scale(1 1.04)" font-size="14" font-weight="bold" text-anchor="end" fill="#000">1</text>
<line x1="79.5" y1="1427.3000000000002" x2="85" y2="1427.3000000000002" stroke="#000" stroke-width="1.6"/>
<text transform="translate(78 1432.3000000000002) scale(1 1.04)" font-size="14" font-weight="bold" text-anchor="end" fill="#000">2</text>
<line x1="79.5" y1="1366.5" x2="85" y2="1366.5" stroke="#000" stroke-width="1.6"/>
<text transform="translate(78 1371.5) scale(1 1.04)" font-size="14" font-weight="bold" text-anchor="end" fill="#000">3</text>
<line x1="84" y1="1548.9" x2="268.5" y2="1548.9" stroke="#000" stroke-width="2"/>
<line x1="113.2" y1="1548.9" x2="113.2" y2="1554.4" stroke="#000" stroke-width="2"/>
<line x1="155.4" y1="1548.9" x2="155.4" y2="1554.4" stroke="#000" stroke-width="2"/>
<line x1="197.4" y1="1548.9" x2="197.4" y2="1554.4" stroke="#000" stroke-width="2"/>
<line x1="239.6" y1="1548.9" x2="239.6" y2="1554.4" stroke="#000" stroke-width="2"/>
<text transform="translate(113.2 1569.9) scale(1 1.04)" font-size="13.7" font-weight="bold" text-anchor="middle" fill="#000">Ctrl</text>
<text transform="translate(155.4 1569.9) scale(1 1.04)" font-size="13.7" font-weight="bold" text-anchor="middle" fill="#000">PE</text>
<text transform="translate(197.4 1569.9) scale(1 1.04)" font-size="13.7" font-weight="bold" text-anchor="middle" fill="#000">Ctrl</text>
<text transform="translate(239.6 1569.9) scale(1 1.04)" font-size="13.7" font-weight="bold" text-anchor="middle" fill="#000">PE</text>
<line x1="102.4" y1="1576.2" x2="165.8" y2="1576.2" stroke="#000" stroke-width="2"/>
<line x1="186.6" y1="1576.2" x2="250.0" y2="1576.2" stroke="#000" stroke-width="2"/>
<text transform="translate(134.3 1594.2) scale(1 1.04)" font-size="14.5" font-weight="bold" text-anchor="middle" fill="#000" textLength="36" lengthAdjust="spacingAndGlyphs">Term</text>
<text transform="translate(218.5 1594.2) scale(1 1.04)" font-size="14.5" font-weight="bold" text-anchor="middle" fill="#000" textLength="63" lengthAdjust="spacingAndGlyphs">Pre-term</text>
<circle cx="113.2" cy="1430" r="3.6"/>
<circle cx="104.5" cy="1479" r="3.6"/>
<circle cx="121.9" cy="1477.5" r="3.6"/>
<circle cx="113.2" cy="1487.9" r="3.6"/>
<circle cx="113.2" cy="1500.5" r="3.6"/>
<circle cx="113.2" cy="1513.4" r="3.6"/>
<circle cx="113.2" cy="1530.8" r="3.6"/>
<line x1="113.2" y1="1456.6" x2="113.2" y2="1520.9" stroke="#000" stroke-width="2"/>
<line x1="106.2" y1="1456.6" x2="120.2" y2="1456.6" stroke="#000" stroke-width="2"/>
<line x1="106.2" y1="1520.9" x2="120.2" y2="1520.9" stroke="#000" stroke-width="2"/>
<line x1="99.2" y1="1487.9" x2="127.2" y2="1487.9" stroke="#000" stroke-width="2"/>
<rect x="146.4" y="1508.6000000000001" width="7.2" height="7.2"/>
<rect x="157.3" y="1511.6000000000001" width="7.2" height="7.2"/>
<rect x="148.8" y="1517.3000000000002" width="7.2" height="7.2"/>
<rect x="155.5" y="1519.3000000000002" width="7.2" height="7.2"/>
<rect x="146.4" y="1531.4" width="7.2" height="7.2"/>
<rect x="157.3" y="1527.2" width="7.2" height="7.2"/>
<line x1="155.4" y1="1513" x2="155.4" y2="1533" stroke="#000" stroke-width="2"/>
<line x1="148.4" y1="1513" x2="162.4" y2="1513" stroke="#000" stroke-width="2"/>
<line x1="148.4" y1="1533" x2="162.4" y2="1533" stroke="#000" stroke-width="2"/>
<line x1="141.4" y1="1523.1" x2="169.4" y2="1523.1" stroke="#000" stroke-width="2"/>
<path d="M193.60,1390.10L201.20,1390.10L197.40,1382.80Z"/>
<path d="M193.60,1441.50L201.20,1441.50L197.40,1434.20Z"/>
<path d="M185.00,1460.60L192.60,1460.60L188.80,1453.30Z"/>
<path d="M202.10,1460.60L209.70,1460.60L205.90,1453.30Z"/>
<path d="M193.60,1467.50L201.20,1467.50L197.40,1460.20Z"/>
<path d="M193.60,1496.10L201.20,1496.10L197.40,1488.80Z"/>
<line x1="197.4" y1="1413.3" x2="197.4" y2="1483.8" stroke="#000" stroke-width="2"/>
<line x1="190.4" y1="1413.3" x2="204.4" y2="1413.3" stroke="#000" stroke-width="2"/>
<line x1="190.4" y1="1483.8" x2="204.4" y2="1483.8" stroke="#000" stroke-width="2"/>
<line x1="183.4" y1="1448.6" x2="211.4" y2="1448.6" stroke="#000" stroke-width="2"/>
<path d="M235.80,1426.30L243.40,1426.30L239.60,1433.60Z"/>
<path d="M235.80,1445.80L243.40,1445.80L239.60,1453.10Z"/>
<path d="M235.80,1470.00L243.40,1470.00L239.60,1477.30Z"/>
<path d="M227.10,1486.60L234.70,1486.60L230.90,1493.90Z"/>
<path d="M244.20,1489.70L251.80,1489.70L248.00,1497.00Z"/>
<path d="M235.80,1496.80L243.40,1496.80L239.60,1504.10Z"/>
<line x1="239.6" y1="1446.5" x2="239.6" y2="1501.7" stroke="#000" stroke-width="2"/>
<line x1="232.6" y1="1446.5" x2="246.6" y2="1446.5" stroke="#000" stroke-width="2"/>
<line x1="232.6" y1="1501.7" x2="246.6" y2="1501.7" stroke="#000" stroke-width="2"/>
<line x1="225.6" y1="1473.6" x2="253.6" y2="1473.6" stroke="#000" stroke-width="2"/>
<text transform="translate(44,1457.7) rotate(-90) scale(1 1.04)" font-size="15.2" font-weight="bold" text-anchor="middle">FIS1 protein level</text>
<text transform="translate(61.2,1457.7) rotate(-90) scale(1 1.04)" font-size="15.2" font-weight="bold" text-anchor="middle">relative to term control</text>
<text transform="translate(94.6 1377.7) scale(1 1.04)" font-size="15" font-weight="normal" text-anchor="start" fill="#222">PE *</text>
<text transform="translate(94.6 1395) scale(1 1.04)" font-size="15" font-weight="normal" text-anchor="start" fill="#222">Gestation ***</text>
<path d="M113.2,1418.9H155.2V1499.6" fill="none" stroke="#000" stroke-width="2"/>
<text transform="translate(134.75 1425) scale(1 1.04)" font-size="25" font-weight="normal" text-anchor="middle" fill="#000">*</text>
<line x1="432.4" y1="626.8" x2="432.4" y2="810" stroke="#000" stroke-width="2"/>
<line x1="426.9" y1="809.0" x2="432.4" y2="809.0" stroke="#000" stroke-width="1.6"/>
<text transform="translate(425.4 814.0) scale(1 1.04)" font-size="14" font-weight="bold" text-anchor="end" fill="#000">0</text>
<line x1="426.9" y1="748.6" x2="432.4" y2="748.6" stroke="#000" stroke-width="1.6"/>
<text transform="translate(425.4 753.6) scale(1 1.04)" font-size="14" font-weight="bold" text-anchor="end" fill="#000">1</text>
<line x1="426.9" y1="688.2" x2="432.4" y2="688.2" stroke="#000" stroke-width="1.6"/>
<text transform="translate(425.4 693.2) scale(1 1.04)" font-size="14" font-weight="bold" text-anchor="end" fill="#000">2</text>
<line x1="426.9" y1="627.8" x2="432.4" y2="627.8" stroke="#000" stroke-width="1.6"/>
<text transform="translate(425.4 632.8) scale(1 1.04)" font-size="14" font-weight="bold" text-anchor="end" fill="#000">3</text>
<line x1="431.4" y1="809" x2="614.7" y2="809" stroke="#000" stroke-width="2"/>
<line x1="460.2" y1="809" x2="460.2" y2="814.5" stroke="#000" stroke-width="2"/>
<line x1="502.4" y1="809" x2="502.4" y2="814.5" stroke="#000" stroke-width="2"/>
<line x1="544.4" y1="809" x2="544.4" y2="814.5" stroke="#000" stroke-width="2"/>
<line x1="586.4" y1="809" x2="586.4" y2="814.5" stroke="#000" stroke-width="2"/>
<text transform="translate(460.2 830) scale(1 1.04)" font-size="13.7" font-weight="bold" text-anchor="middle" fill="#000">Ctrl</text>
<text transform="translate(502.4 830) scale(1 1.04)" font-size="13.7" font-weight="bold" text-anchor="middle" fill="#000">PE</text>
<text transform="translate(544.4 830) scale(1 1.04)" font-size="13.7" font-weight="bold" text-anchor="middle" fill="#000">Ctrl</text>
<text transform="translate(586.4 830) scale(1 1.04)" font-size="13.7" font-weight="bold" text-anchor="middle" fill="#000">PE</text>
<line x1="449.4" y1="836.3" x2="512.8" y2="836.3" stroke="#000" stroke-width="2"/>
<line x1="533.6" y1="836.3" x2="596.8" y2="836.3" stroke="#000" stroke-width="2"/>
<text transform="translate(481.29999999999995 855.6) scale(1 1.04)" font-size="14.5" font-weight="bold" text-anchor="middle" fill="#000" textLength="36" lengthAdjust="spacingAndGlyphs">Term</text>
<text transform="translate(565.4 855.6) scale(1 1.04)" font-size="14.5" font-weight="bold" text-anchor="middle" fill="#000" textLength="63" lengthAdjust="spacingAndGlyphs">Pre-term</text>
<circle cx="451.8" cy="736.4" r="3.6"/>
<circle cx="468.9" cy="735.7" r="3.6"/>
<circle cx="456.7" cy="743.9" r="3.6"/>
<circle cx="464.2" cy="743.9" r="3.6"/>
<circle cx="465.9" cy="763" r="3.6"/>
<circle cx="454.7" cy="774.2" r="3.6"/>
<line x1="460.2" y1="734.5" x2="460.2" y2="762.5" stroke="#000" stroke-width="2"/>
<line x1="453.2" y1="734.5" x2="467.2" y2="734.5" stroke="#000" stroke-width="2"/>
<line x1="453.2" y1="762.5" x2="467.2" y2="762.5" stroke="#000" stroke-width="2"/>
<line x1="446.2" y1="748.6" x2="474.2" y2="748.6" stroke="#000" stroke-width="2"/>
<rect x="493.4" y="690.6999999999999" width="7.2" height="7.2"/>
<rect x="504.5" y="690.6999999999999" width="7.2" height="7.2"/>
<rect x="493.4" y="709.3" width="7.2" height="7.2"/>
<rect x="509.5" y="711.5" width="7.2" height="7.2"/>
<rect x="503.29999999999995" y="718.0" width="7.2" height="7.2"/>
<rect x="493.4" y="726.6" width="7.2" height="7.2"/>
<line x1="502.4" y1="697.2" x2="502.4" y2="725.8" stroke="#000" stroke-width="2"/>
<line x1="495.4" y1="697.2" x2="509.4" y2="697.2" stroke="#000" stroke-width="2"/>
<line x1="495.4" y1="725.8" x2="509.4" y2="725.8" stroke="#000" stroke-width="2"/>
<line x1="488.4" y1="711.6" x2="516.4" y2="711.6" stroke="#000" stroke-width="2"/>
<path d="M540.60,688.90L548.20,688.90L544.40,681.60Z"/>
<path d="M540.60,712.70L548.20,712.70L544.40,705.40Z"/>
<path d="M540.60,747.40L548.20,747.40L544.40,740.10Z"/>
<path d="M540.60,771.80L548.20,771.80L544.40,764.50Z"/>
<path d="M534.70,786.10L542.30,786.10L538.50,778.80Z"/>
<path d="M551.30,792.00L558.90,792.00L555.10,784.70Z"/>
<path d="M545.80,801.80L553.40,801.80L549.60,794.50Z"/>
<path d="M534.70,808.00L542.30,808.00L538.50,800.70Z"/>
<line x1="544.4" y1="716.6" x2="544.4" y2="803.1" stroke="#000" stroke-width="2"/>
<line x1="537.4" y1="716.6" x2="551.4" y2="716.6" stroke="#000" stroke-width="2"/>
<line x1="537.4" y1="803.1" x2="551.4" y2="803.1" stroke="#000" stroke-width="2"/>
<line x1="530.4" y1="759.7" x2="558.4" y2="759.7" stroke="#000" stroke-width="2"/>
<path d="M574.40,761.80L582.00,761.80L578.20,769.10Z"/>
<path d="M591.30,761.80L598.90,761.80L595.10,769.10Z"/>
<path d="M582.60,769.30L590.20,769.30L586.40,776.60Z"/>
<path d="M578.10,794.10L585.70,794.10L581.90,801.40Z"/>
<path d="M587.50,794.10L595.10,794.10L591.30,801.40Z"/>
<path d="M582.60,758.40L590.20,758.40L586.40,765.70Z"/>
<line x1="586.4" y1="760.2" x2="586.4" y2="795" stroke="#000" stroke-width="2"/>
<line x1="579.4" y1="760.2" x2="593.4" y2="760.2" stroke="#000" stroke-width="2"/>
<line x1="579.4" y1="795" x2="593.4" y2="795" stroke="#000" stroke-width="2"/>
<line x1="572.4" y1="777.6" x2="600.4" y2="777.6" stroke="#000" stroke-width="2"/>
<text transform="translate(392.5,718.4) rotate(-90) scale(1 1.04)" font-size="15.2" font-weight="bold" text-anchor="middle">L-OPA1/S-OPA1 protein level</text>
<text transform="translate(410,718.4) rotate(-90) scale(1 1.04)" font-size="15.2" font-weight="bold" text-anchor="middle">relative to term control</text>
<text transform="translate(442.3 638.9) scale(1 1.04)" font-size="15" font-weight="normal" text-anchor="start" fill="#222">Interaction *</text>
<text transform="translate(442.3 655.7) scale(1 1.04)" font-size="15" font-weight="normal" text-anchor="start" fill="#222">Gestation **</text>
<path d="M460.3,728.3V680.2H501.6V685.3" fill="none" stroke="#000" stroke-width="2"/>
<text transform="translate(481 685.4) scale(1 1.04)" font-size="25" font-weight="normal" text-anchor="middle" fill="#000">*</text>
<line x1="432.9" y1="999" x2="432.9" y2="1184" stroke="#000" stroke-width="2"/>
<line x1="427.4" y1="1183" x2="432.9" y2="1183" stroke="#000" stroke-width="1.6"/>
<text transform="translate(425.9 1188) scale(1 1.04)" font-size="14" font-weight="bold" text-anchor="end" fill="#000">0</text>
<line x1="427.4" y1="1122" x2="432.9" y2="1122" stroke="#000" stroke-width="1.6"/>
<text transform="translate(425.9 1127) scale(1 1.04)" font-size="14" font-weight="bold" text-anchor="end" fill="#000">1</text>
<line x1="427.4" y1="1061" x2="432.9" y2="1061" stroke="#000" stroke-width="1.6"/>
<text transform="translate(425.9 1066) scale(1 1.04)" font-size="14" font-weight="bold" text-anchor="end" fill="#000">2</text>
<line x1="427.4" y1="1000" x2="432.9" y2="1000" stroke="#000" stroke-width="1.6"/>
<text transform="translate(425.9 1005) scale(1 1.04)" font-size="14" font-weight="bold" text-anchor="end" fill="#000">3</text>
<line x1="431.9" y1="1183" x2="616.2" y2="1183" stroke="#000" stroke-width="2"/>
<line x1="460.7" y1="1183" x2="460.7" y2="1188.5" stroke="#000" stroke-width="2"/>
<line x1="503.1" y1="1183" x2="503.1" y2="1188.5" stroke="#000" stroke-width="2"/>
<line x1="545.2" y1="1183" x2="545.2" y2="1188.5" stroke="#000" stroke-width="2"/>
<line x1="587.4" y1="1183" x2="587.4" y2="1188.5" stroke="#000" stroke-width="2"/>
<text transform="translate(460.7 1203.9) scale(1 1.04)" font-size="13.7" font-weight="bold" text-anchor="middle" fill="#000">Ctrl</text>
<text transform="translate(503.1 1203.9) scale(1 1.04)" font-size="13.7" font-weight="bold" text-anchor="middle" fill="#000">PE</text>
<text transform="translate(545.2 1203.9) scale(1 1.04)" font-size="13.7" font-weight="bold" text-anchor="middle" fill="#000">Ctrl</text>
<text transform="translate(587.4 1203.9) scale(1 1.04)" font-size="13.7" font-weight="bold" text-anchor="middle" fill="#000">PE</text>
<line x1="449.9" y1="1210.3" x2="513.5" y2="1210.3" stroke="#000" stroke-width="2"/>
<line x1="534.4000000000001" y1="1210.3" x2="597.8" y2="1210.3" stroke="#000" stroke-width="2"/>
<text transform="translate(481.9 1228.4) scale(1 1.04)" font-size="14.5" font-weight="bold" text-anchor="middle" fill="#000" textLength="36" lengthAdjust="spacingAndGlyphs">Term</text>
<text transform="translate(566.3 1228.4) scale(1 1.04)" font-size="14.5" font-weight="bold" text-anchor="middle" fill="#000" textLength="63" lengthAdjust="spacingAndGlyphs">Pre-term</text>
<circle cx="460.7" cy="1056.8" r="3.6"/>
<circle cx="460.7" cy="1104.2" r="3.6"/>
<circle cx="452.6" cy="1128.9" r="3.6"/>
<circle cx="469.7" cy="1127.4" r="3.6"/>
<circle cx="460.7" cy="1138" r="3.6"/>
<circle cx="466.4" cy="1147.9" r="3.6"/>
<circle cx="455.4" cy="1155.5" r="3.6"/>
<line x1="460.7" y1="1089.1" x2="460.7" y2="1155.9" stroke="#000" stroke-width="2"/>
<line x1="453.7" y1="1089.1" x2="467.7" y2="1089.1" stroke="#000" stroke-width="2"/>
<line x1="453.7" y1="1155.9" x2="467.7" y2="1155.9" stroke="#000" stroke-width="2"/>
<line x1="446.7" y1="1122.3" x2="474.7" y2="1122.3" stroke="#000" stroke-width="2"/>
<rect x="494.29999999999995" y="1052.7" width="7.2" height="7.2"/>
<rect x="505.0" y="1047.0" width="7.2" height="7.2"/>
<rect x="496.29999999999995" y="1056.9" width="7.2" height="7.2"/>
<rect x="502.5" y="1056.2" width="7.2" height="7.2"/>
<rect x="494.29999999999995" y="1084.2" width="7.2" height="7.2"/>
<rect x="505.0" y="1086.7" width="7.2" height="7.2"/>
<rect x="499.79999999999995" y="1116.8000000000002" width="7.2" height="7.2"/>
<line x1="503.1" y1="1049.8" x2="503.1" y2="1100" stroke="#000" stroke-width="2"/>
<line x1="496.1" y1="1049.8" x2="510.1" y2="1049.8" stroke="#000" stroke-width="2"/>
<line x1="496.1" y1="1100" x2="510.1" y2="1100" stroke="#000" stroke-width="2"/>
<line x1="489.1" y1="1074.9" x2="517.1" y2="1074.9" stroke="#000" stroke-width="2"/>
<path d="M541.40,1107.20L549.00,1107.20L545.20,1099.90Z"/>
<path d="M541.40,1135.50L549.00,1135.50L545.20,1128.20Z"/>
<path d="M535.40,1146.20L543.00,1146.20L539.20,1138.90Z"/>
<path d="M552.80,1151.10L560.40,1151.10L556.60,1143.80Z"/>
<path d="M547.10,1156.80L554.70,1156.80L550.90,1149.50Z"/>
<path d="M535.90,1166.00L543.50,1166.00L539.70,1158.70Z"/>
<line x1="545.2" y1="1119.5" x2="545.2" y2="1160" stroke="#000" stroke-width="2"/>
<line x1="538.2" y1="1119.5" x2="552.2" y2="1119.5" stroke="#000" stroke-width="2"/>
<line x1="538.2" y1="1160" x2="552.2" y2="1160" stroke="#000" stroke-width="2"/>
<line x1="531.2" y1="1139.3" x2="559.2" y2="1139.3" stroke="#000" stroke-width="2"/>
<path d="M578.10,1129.00L585.70,1129.00L581.90,1136.30Z"/>
<path d="M588.50,1135.20L596.10,1135.20L592.30,1142.50Z"/>
<path d="M582.60,1139.00L590.20,1139.00L586.40,1146.30Z"/>
<path d="M578.10,1152.60L585.70,1152.60L581.90,1159.90Z"/>
<path d="M589.30,1150.60L596.90,1150.60L593.10,1157.90Z"/>
<line x1="587.4" y1="1137.6" x2="587.4" y2="1153.7" stroke="#000" stroke-width="2"/>
<line x1="580.4" y1="1137.6" x2="594.4" y2="1137.6" stroke="#000" stroke-width="2"/>
<line x1="580.4" y1="1153.7" x2="594.4" y2="1153.7" stroke="#000" stroke-width="2"/>
<line x1="573.4" y1="1145.8" x2="601.4" y2="1145.8" stroke="#000" stroke-width="2"/>
<text transform="translate(393,1091.5) rotate(-90) scale(1 1.04)" font-size="15.2" font-weight="bold" text-anchor="middle">MFN1 protein level</text>
<text transform="translate(410.5,1091.5) rotate(-90) scale(1 1.04)" font-size="15.2" font-weight="bold" text-anchor="middle">relative to term control</text>
<text transform="translate(529.3 1011.8) scale(1 1.04)" font-size="15" font-weight="normal" text-anchor="start" fill="#222">PE *</text>
<text transform="translate(529.3 1028.9) scale(1 1.04)" font-size="15" font-weight="normal" text-anchor="start" fill="#222">Gestation ***</text>
<text transform="translate(529.3 1046.5) scale(1 1.04)" font-size="15" font-weight="normal" text-anchor="start" fill="#222">Interaction **</text>
<path d="M460.8,1045.5V1023.3H503.2V1039.3" fill="none" stroke="#000" stroke-width="2"/>
<text transform="translate(482.35 1027.8) scale(1 1.04)" font-size="25" font-weight="normal" text-anchor="middle" fill="#000">**</text>
<line x1="432.4" y1="1364.3" x2="432.4" y2="1549.5" stroke="#000" stroke-width="2"/>
<line x1="426.9" y1="1548.5" x2="432.4" y2="1548.5" stroke="#000" stroke-width="1.6"/>
<text transform="translate(425.4 1553.5) scale(1 1.04)" font-size="14" font-weight="bold" text-anchor="end" fill="#000">0.0</text>
<line x1="426.9" y1="1502.7" x2="432.4" y2="1502.7" stroke="#000" stroke-width="1.6"/>
<text transform="translate(425.4 1507.7) scale(1 1.04)" font-size="14" font-weight="bold" text-anchor="end" fill="#000">0.5</text>
<line x1="426.9" y1="1456.9" x2="432.4" y2="1456.9" stroke="#000" stroke-width="1.6"/>
<text transform="translate(425.4 1461.9) scale(1 1.04)" font-size="14" font-weight="bold" text-anchor="end" fill="#000">1.0</text>
<line x1="426.9" y1="1411.1" x2="432.4" y2="1411.1" stroke="#000" stroke-width="1.6"/>
<text transform="translate(425.4 1416.1) scale(1 1.04)" font-size="14" font-weight="bold" text-anchor="end" fill="#000">1.5</text>
<line x1="426.9" y1="1365.3" x2="432.4" y2="1365.3" stroke="#000" stroke-width="1.6"/>
<text transform="translate(425.4 1370.3) scale(1 1.04)" font-size="14" font-weight="bold" text-anchor="end" fill="#000">2.0</text>
<line x1="431.4" y1="1548.5" x2="615.9" y2="1548.5" stroke="#000" stroke-width="2"/>
<line x1="460.7" y1="1548.5" x2="460.7" y2="1554.0" stroke="#000" stroke-width="2"/>
<line x1="502.9" y1="1548.5" x2="502.9" y2="1554.0" stroke="#000" stroke-width="2"/>
<line x1="544.7" y1="1548.5" x2="544.7" y2="1554.0" stroke="#000" stroke-width="2"/>
<line x1="586.9" y1="1548.5" x2="586.9" y2="1554.0" stroke="#000" stroke-width="2"/>
<text transform="translate(460.7 1568.8) scale(1 1.04)" font-size="13.7" font-weight="bold" text-anchor="middle" fill="#000">Ctrl</text>
<text transform="translate(502.9 1568.8) scale(1 1.04)" font-size="13.7" font-weight="bold" text-anchor="middle" fill="#000">PE</text>
<text transform="translate(544.7 1568.8) scale(1 1.04)" font-size="13.7" font-weight="bold" text-anchor="middle" fill="#000">Ctrl</text>
<text transform="translate(586.9 1568.8) scale(1 1.04)" font-size="13.7" font-weight="bold" text-anchor="middle" fill="#000">PE</text>
<line x1="449.9" y1="1575.2" x2="513.3" y2="1575.2" stroke="#000" stroke-width="2"/>
<line x1="533.9000000000001" y1="1575.2" x2="597.3" y2="1575.2" stroke="#000" stroke-width="2"/>
<text transform="translate(481.79999999999995 1593.6) scale(1 1.04)" font-size="14.5" font-weight="bold" text-anchor="middle" fill="#000" textLength="36" lengthAdjust="spacingAndGlyphs">Term</text>
<text transform="translate(565.8 1593.6) scale(1 1.04)" font-size="14.5" font-weight="bold" text-anchor="middle" fill="#000" textLength="63" lengthAdjust="spacingAndGlyphs">Pre-term</text>
<circle cx="455.2" cy="1404.5" r="3.6"/>
<circle cx="466.4" cy="1408.9" r="3.6"/>
<circle cx="466.4" cy="1438" r="3.6"/>
<circle cx="455.2" cy="1444.2" r="3.6"/>
<circle cx="460.7" cy="1481.2" r="3.6"/>
<circle cx="455" cy="1512.5" r="3.6"/>
<circle cx="466.4" cy="1511.2" r="3.6"/>
<line x1="460.7" y1="1411.9" x2="460.7" y2="1502.1" stroke="#000" stroke-width="2"/>
<line x1="453.7" y1="1411.9" x2="467.7" y2="1411.9" stroke="#000" stroke-width="2"/>
<line x1="453.7" y1="1502.1" x2="467.7" y2="1502.1" stroke="#000" stroke-width="2"/>
<line x1="446.7" y1="1457.1" x2="474.7" y2="1457.1" stroke="#000" stroke-width="2"/>
<rect x="493.79999999999995" y="1392.2" width="7.2" height="7.2"/>
<rect x="505.0" y="1388.4" width="7.2" height="7.2"/>
<rect x="493.79999999999995" y="1428.2" width="7.2" height="7.2"/>
<rect x="505.0" y="1439.3000000000002" width="7.2" height="7.2"/>
<rect x="490.59999999999997" y="1453.1000000000001" width="7.2" height="7.2"/>
<rect x="499.09999999999997" y="1460.0" width="7.2" height="7.2"/>
<rect x="507.9" y="1458.4" width="7.2" height="7.2"/>
<line x1="502.9" y1="1404.5" x2="502.9" y2="1465.3" stroke="#000" stroke-width="2"/>
<line x1="495.9" y1="1404.5" x2="509.9" y2="1404.5" stroke="#000" stroke-width="2"/>
<line x1="495.9" y1="1465.3" x2="509.9" y2="1465.3" stroke="#000" stroke-width="2"/>
<line x1="488.9" y1="1435" x2="516.9" y2="1435" stroke="#000" stroke-width="2"/>
<path d="M540.90,1398.50L548.50,1398.50L544.70,1391.20Z"/>
<path d="M540.90,1433.20L548.50,1433.20L544.70,1425.90Z"/>
<path d="M540.90,1474.90L548.50,1474.90L544.70,1467.60Z"/>
<path d="M540.90,1491.10L548.50,1491.10L544.70,1483.80Z"/>
<path d="M547.10,1508.90L554.70,1508.90L550.90,1501.60Z"/>
<path d="M535.40,1519.40L543.00,1519.40L539.20,1512.10Z"/>
<line x1="544.7" y1="1420.2" x2="544.7" y2="1513.5" stroke="#000" stroke-width="2"/>
<line x1="537.7" y1="1420.2" x2="551.7" y2="1420.2" stroke="#000" stroke-width="2"/>
<line x1="537.7" y1="1513.5" x2="551.7" y2="1513.5" stroke="#000" stroke-width="2"/>
<line x1="530.7" y1="1466.9" x2="558.7" y2="1466.9" stroke="#000" stroke-width="2"/>
<path d="M577.60,1439.70L585.20,1439.70L581.40,1447.00Z"/>
<path d="M588.50,1436.00L596.10,1436.00L592.30,1443.30Z"/>
<path d="M577.60,1458.30L585.20,1458.30L581.40,1465.60Z"/>
<path d="M588.50,1458.30L596.10,1458.30L592.30,1465.60Z"/>
<path d="M588.50,1487.30L596.10,1487.30L592.30,1494.60Z"/>
<path d="M577.60,1492.60L585.20,1492.60L581.40,1499.90Z"/>
<line x1="586.9" y1="1443.3" x2="586.9" y2="1489.2" stroke="#000" stroke-width="2"/>
<line x1="579.9" y1="1443.3" x2="593.9" y2="1443.3" stroke="#000" stroke-width="2"/>
<line x1="579.9" y1="1489.2" x2="593.9" y2="1489.2" stroke="#000" stroke-width="2"/>
<line x1="572.9" y1="1466.1" x2="600.9" y2="1466.1" stroke="#000" stroke-width="2"/>
<text transform="translate(381.8,1456.9) rotate(-90) scale(1 1.04)" font-size="15.2" font-weight="bold" text-anchor="middle">MFN2 protein level</text>
<text transform="translate(400.4,1456.9) rotate(-90) scale(1 1.04)" font-size="15.2" font-weight="bold" text-anchor="middle">relative to term control</text>
<defs><filter id="bl" x="-10%" y="-60%" width="120%" height="220%"><feGaussianBlur stdDeviation="0.6"/></filter></defs>
<line x1="62.3" y1="864.5" x2="173.8" y2="864.5" stroke="#000" stroke-width="2"/>
<line x1="178.4" y1="864.5" x2="291" y2="864.5" stroke="#000" stroke-width="2"/>
<text transform="translate(53.2 886.6) scale(1 1.04)" font-size="14.8" font-weight="bold" text-anchor="end" fill="#000">kDa</text>
<text transform="translate(89.2 884.8) scale(1 1.04)" font-size="14.8" font-weight="bold" text-anchor="middle" fill="#000">Ctrl</text>
<text transform="translate(144.7 884.8) scale(1 1.04)" font-size="14.8" font-weight="bold" text-anchor="middle" fill="#000">PE</text>
<text transform="translate(205 884.8) scale(1 1.04)" font-size="14.8" font-weight="bold" text-anchor="middle" fill="#000">Ctrl</text>
<text transform="translate(266 884.8) scale(1 1.04)" font-size="14.8" font-weight="bold" text-anchor="middle" fill="#000">PE</text>
<text transform="translate(53.2 904.7) scale(1 1.04)" font-size="14.8" font-weight="bold" text-anchor="end" fill="#000">82</text>
<text transform="translate(293.6 904.2) scale(1 1.04)" font-size="14.8" font-weight="bold" text-anchor="start" fill="#000">DRP1</text>
<rect x="55.9" y="891.8" width="56.10" height="15.60" fill="#d0d0d0"/>
<rect x="116.1" y="891.8" width="55.80" height="15.60" fill="#d0d0d0"/>
<rect x="176.1" y="891.8" width="55.80" height="15.60" fill="#d0d0d0"/>
<rect x="236.1" y="891.8" width="55.70" height="15.60" fill="#d0d0d0"/>
<g filter="url(#bl)">
<rect x="58.65" y="898.65" width="13.5" height="2.3" rx="1.15" fill="#a5a5a5"/>
<rect x="77.05" y="898.65" width="13.5" height="2.3" rx="1.15" fill="#787878"/>
<rect x="95.75" y="898.65" width="13.5" height="2.3" rx="1.15" fill="#7d7d7d"/>
<rect x="118.15" y="898.65" width="13.5" height="2.3" rx="1.15" fill="#4b4b4b"/>
<rect x="136.75" y="898.65" width="13.5" height="2.3" rx="1.15" fill="#555555"/>
<rect x="155.45" y="898.65" width="13.5" height="2.3" rx="1.15" fill="#5a5a5a"/>
<rect x="178.15" y="898.65" width="13.5" height="2.3" rx="1.15" fill="#5f5f5f"/>
<rect x="197.45" y="898.65" width="13.5" height="2.3" rx="1.15" fill="#1e1e1e"/>
<rect x="216.55" y="898.65" width="13.5" height="2.3" rx="1.15" fill="#5f5f5f"/>
<rect x="238.45" y="898.65" width="13.5" height="2.3" rx="1.15" fill="#1e1e1e"/>
<rect x="256.75" y="898.65" width="13.5" height="2.3" rx="1.15" fill="#5f5f5f"/>
<rect x="275.45" y="898.65" width="13.5" height="2.3" rx="1.15" fill="#505050"/>
</g>
<circle cx="62" cy="906.5" r="0.9" fill="#222"/>
<circle cx="93" cy="905" r="0.9" fill="#222"/>
<circle cx="101.9" cy="892.7" r="0.9" fill="#222"/>
<circle cx="99.5" cy="897" r="0.9" fill="#222"/>
<circle cx="105.4" cy="898.2" r="0.9" fill="#222"/>
<circle cx="163" cy="892.5" r="0.9" fill="#222"/>
<text transform="translate(53.2 921.6) scale(1 1.04)" font-size="14.8" font-weight="bold" text-anchor="end" fill="#000">42</text>
<text transform="translate(293.6 921.9) scale(1 1.04)" font-size="14.8" font-weight="bold" text-anchor="start" fill="#000">βA</text>
<rect x="55.9" y="912.1" width="56.10" height="13.50" fill="#cdcdcd"/>
<rect x="116.1" y="912.1" width="55.80" height="13.50" fill="#cdcdcd"/>
<rect x="176.1" y="912.1" width="55.80" height="13.50" fill="#cdcdcd"/>
<rect x="236.1" y="912.1" width="55.70" height="13.50" fill="#cdcdcd"/>
<g filter="url(#bl)">
<rect x="58.65" y="916.80" width="13.5" height="5" rx="2.50" fill="#2d2d2d"/>
<rect x="77.05" y="916.80" width="13.5" height="5" rx="2.50" fill="#323232"/>
<rect x="95.75" y="916.80" width="13.5" height="5" rx="2.50" fill="#262626"/>
<rect x="118.15" y="916.80" width="13.5" height="5" rx="2.50" fill="#0a0a0a"/>
<rect x="136.75" y="916.80" width="13.5" height="5" rx="2.50" fill="#0a0a0a"/>
<rect x="155.45" y="916.80" width="13.5" height="5" rx="2.50" fill="#0c0c0c"/>
<rect x="178.15" y="916.80" width="13.5" height="5" rx="2.50" fill="#555555"/>
<rect x="197.45" y="916.80" width="13.5" height="5" rx="2.50" fill="#828282"/>
<rect x="216.55" y="916.80" width="13.5" height="5" rx="2.50" fill="#4b4b4b"/>
<rect x="238.45" y="916.80" width="13.5" height="5" rx="2.50" fill="#1e1e1e"/>
<rect x="256.75" y="916.80" width="13.5" height="5" rx="2.50" fill="#7d7d7d"/>
<rect x="275.45" y="916.80" width="13.5" height="5" rx="2.50" fill="#505050"/>
</g>
<circle cx="102" cy="915" r="0.9" fill="#222"/>
<line x1="62.3" y1="1235.8" x2="173.8" y2="1235.8" stroke="#000" stroke-width="2"/>
<line x1="178.4" y1="1235.8" x2="291" y2="1235.8" stroke="#000" stroke-width="2"/>
<text transform="translate(53.2 1255.5) scale(1 1.04)" font-size="14.8" font-weight="bold" text-anchor="end" fill="#000">kDa</text>
<text transform="translate(89.2 1256) scale(1 1.04)" font-size="14.8" font-weight="bold" text-anchor="middle" fill="#000">Ctrl</text>
<text transform="translate(144.7 1256) scale(1 1.04)" font-size="14.8" font-weight="bold" text-anchor="middle" fill="#000">PE</text>
<text transform="translate(205 1256) scale(1 1.04)" font-size="14.8" font-weight="bold" text-anchor="middle" fill="#000">Ctrl</text>
<text transform="translate(266 1256) scale(1 1.04)" font-size="14.8" font-weight="bold" text-anchor="middle" fill="#000">PE</text>
<text transform="translate(53.2 1272.8) scale(1 1.04)" font-size="14.8" font-weight="bold" text-anchor="end" fill="#000">82</text>
<text transform="translate(293.6 1273) scale(1 1.04)" font-size="14.8" font-weight="bold" text-anchor="start" fill="#000">DRP1</text>
<rect x="56.1" y="1259.9" width="56.70" height="15.90" fill="#b8b8b8"/>
<rect x="116.1" y="1259.9" width="55.80" height="15.90" fill="#b4b4b4"/>
<rect x="175.6" y="1259.9" width="56.10" height="15.90" fill="#cccccc"/>
<rect x="235.3" y="1259.9" width="55.70" height="15.90" fill="#cacaca"/>
<g filter="url(#bl)">
<rect x="58.75" y="1265.30" width="13.5" height="2.6" rx="1.30" fill="#696969"/>
<rect x="78.00" y="1265.30" width="13.5" height="2.6" rx="1.30" fill="#505050"/>
<rect x="96.95" y="1265.30" width="13.5" height="2.6" rx="1.30" fill="#5f5f5f"/>
<rect x="117.85" y="1265.30" width="13.5" height="2.6" rx="1.30" fill="#5f5f5f"/>
<rect x="136.85" y="1265.30" width="13.5" height="2.6" rx="1.30" fill="#696969"/>
<rect x="156.05" y="1265.30" width="13.5" height="2.6" rx="1.30" fill="#5f5f5f"/>
<rect x="178.15" y="1265.30" width="13.5" height="2.6" rx="1.30" fill="#878787"/>
<rect x="196.55" y="1265.30" width="13.5" height="2.6" rx="1.30" fill="#464646"/>
<rect x="215.45" y="1265.30" width="13.5" height="2.6" rx="1.30" fill="#969696"/>
<rect x="237.55" y="1265.30" width="13.5" height="2.6" rx="1.30" fill="#8c8c8c"/>
<rect x="256.55" y="1265.30" width="13.5" height="2.6" rx="1.30" fill="#696969"/>
<rect x="274.95" y="1265.30" width="13.5" height="2.6" rx="1.30" fill="#484848"/>
<rect x="58.75" y="1269.00" width="13.5" height="2.4" rx="1.20" fill="#737373"/>
<rect x="78.00" y="1269.00" width="13.5" height="2.4" rx="1.20" fill="#5f5f5f"/>
<rect x="96.95" y="1269.00" width="13.5" height="2.4" rx="1.20" fill="#6e6e6e"/>
<rect x="117.85" y="1269.00" width="13.5" height="2.4" rx="1.20" fill="#696969"/>
<rect x="136.85" y="1269.00" width="13.5" height="2.4" rx="1.20" fill="#737373"/>
<rect x="156.05" y="1269.00" width="13.5" height="2.4" rx="1.20" fill="#696969"/>
<rect x="178.15" y="1269.00" width="13.5" height="2.4" rx="1.20" fill="#969696"/>
<rect x="196.55" y="1269.00" width="13.5" height="2.4" rx="1.20" fill="#5f5f5f"/>
<rect x="215.45" y="1269.00" width="13.5" height="2.4" rx="1.20" fill="#a5a5a5"/>
<rect x="237.55" y="1269.00" width="13.5" height="2.4" rx="1.20" fill="#9b9b9b"/>
<rect x="256.55" y="1269.00" width="13.5" height="2.4" rx="1.20" fill="#7d7d7d"/>
<rect x="274.95" y="1269.00" width="13.5" height="2.4" rx="1.20" fill="#5f5f5f"/>
</g>
<text transform="translate(53.2 1291.5) scale(1 1.04)" font-size="14.8" font-weight="bold" text-anchor="end" fill="#000">53</text>
<text transform="translate(293.6 1291.4) scale(1 1.04)" font-size="14.8" font-weight="bold" text-anchor="start" fill="#000">CV</text>
<rect x="56.1" y="1280.1" width="56.70" height="13.40" fill="#d2d2d2"/>
<rect x="116.1" y="1280.1" width="55.80" height="13.40" fill="#d2d2d2"/>
<rect x="175.6" y="1280.1" width="56.10" height="13.40" fill="#d2d2d2"/>
<rect x="235.3" y="1280.1" width="55.70" height="13.40" fill="#d2d2d2"/>
<g filter="url(#bl)">
<rect x="58.75" y="1284.90" width="13.5" height="3.4" rx="1.70" fill="#0f0f0f"/>
<rect x="78.00" y="1284.90" width="13.5" height="3.4" rx="1.70" fill="#0f0f0f"/>
<rect x="96.95" y="1284.90" width="13.5" height="3.4" rx="1.70" fill="#0f0f0f"/>
<rect x="117.85" y="1284.90" width="13.5" height="3.4" rx="1.70" fill="#0c0c0c"/>
<rect x="136.85" y="1284.90" width="13.5" height="3.4" rx="1.70" fill="#0c0c0c"/>
<rect x="156.05" y="1284.90" width="13.5" height="3.4" rx="1.70" fill="#0c0c0c"/>
<rect x="178.15" y="1284.90" width="13.5" height="3.4" rx="1.70" fill="#0a0a0a"/>
<rect x="196.55" y="1284.90" width="13.5" height="3.4" rx="1.70" fill="#0c0c0c"/>
<rect x="215.45" y="1284.90" width="13.5" height="3.4" rx="1.70" fill="#0a0a0a"/>
<rect x="237.55" y="1284.90" width="13.5" height="3.4" rx="1.70" fill="#0c0c0c"/>
<rect x="256.55" y="1284.90" width="13.5" height="3.4" rx="1.70" fill="#0a0a0a"/>
<rect x="274.95" y="1284.90" width="13.5" height="3.4" rx="1.70" fill="#0e0e0e"/>
</g>
<line x1="62.3" y1="1601.3" x2="173.4" y2="1601.3" stroke="#000" stroke-width="2"/>
<line x1="178.8" y1="1601.3" x2="291" y2="1601.3" stroke="#000" stroke-width="2"/>
<text transform="translate(62.8 1621.8) scale(1 1.04)" font-size="14.8" font-weight="bold" text-anchor="end" fill="#000">kDa</text>
<text transform="translate(89.2 1621.4) scale(1 1.04)" font-size="14.8" font-weight="bold" text-anchor="middle" fill="#000">Ctrl</text>
<text transform="translate(144.9 1621.4) scale(1 1.04)" font-size="14.8" font-weight="bold" text-anchor="middle" fill="#000">PE</text>
<text transform="translate(204.9 1621.4) scale(1 1.04)" font-size="14.8" font-weight="bold" text-anchor="middle" fill="#000">Ctrl</text>
<text transform="translate(266 1621.4) scale(1 1.04)" font-size="14.8" font-weight="bold" text-anchor="middle" fill="#000">PE</text>
<text transform="translate(63.3 1640.9) scale(1 1.04)" font-size="14.8" font-weight="bold" text-anchor="end" fill="#000">17</text>
<text transform="translate(297.3 1640.2) scale(1 1.04)" font-size="14.8" font-weight="bold" text-anchor="start" fill="#000">FIS1</text>
<rect x="67" y="1626.1" width="50.20" height="15.50" fill="#d8d8d8"/>
<rect x="119.8" y="1626.1" width="53.00" height="15.50" fill="#dadada"/>
<rect x="179.4" y="1626.1" width="56.60" height="15.50" fill="#d2d2d2"/>
<rect x="239" y="1626.1" width="54.00" height="15.50" fill="#d6d6d6"/>
<g filter="url(#bl)">
<rect x="67.80" y="1632.20" width="16.37" height="3" rx="1.50" fill="#191919"/>
<rect x="83.53" y="1632.20" width="17.93" height="3" rx="1.50" fill="#161616"/>
<rect x="100.53" y="1632.20" width="15.87" height="3" rx="1.50" fill="#1c1c1c"/>
<rect x="120.60" y="1632.20" width="16.33" height="3" rx="1.50" fill="#5f5f5f"/>
<rect x="135.57" y="1632.20" width="18.87" height="3" rx="1.50" fill="#555555"/>
<rect x="154.57" y="1632.20" width="17.43" height="3" rx="1.50" fill="#a0a0a0"/>
<rect x="180.20" y="1632.20" width="18.83" height="3" rx="1.50" fill="#505050"/>
<rect x="196.97" y="1632.20" width="20.07" height="3" rx="1.50" fill="#414141"/>
<rect x="215.97" y="1632.20" width="19.23" height="3" rx="1.50" fill="#232323"/>
<rect x="239.80" y="1632.20" width="17.30" height="3" rx="1.50" fill="#505050"/>
<rect x="255.90" y="1632.20" width="19.20" height="3" rx="1.50" fill="#191919"/>
<rect x="274.10" y="1632.20" width="18.10" height="3" rx="1.50" fill="#505050"/>
</g>
<text transform="translate(63.3 1657.5) scale(1 1.04)" font-size="14.8" font-weight="bold" text-anchor="end" fill="#000">42</text>
<text transform="translate(297.3 1656.8) scale(1 1.04)" font-size="14.8" font-weight="bold" text-anchor="start" fill="#000">βA</text>
<rect x="67" y="1646.3" width="50.20" height="13.40" fill="#d4d4d4"/>
<rect x="119.8" y="1646.3" width="53.00" height="13.40" fill="#d4d4d4"/>
<rect x="179.4" y="1646.3" width="56.60" height="13.40" fill="#d4d4d4"/>
<rect x="239" y="1646.3" width="54.00" height="13.40" fill="#d4d4d4"/>
<g filter="url(#bl)">
<rect x="67.70" y="1650.80" width="15" height="3.4" rx="1.70" fill="#121212"/>
<rect x="85.00" y="1650.80" width="15" height="3.4" rx="1.70" fill="#121212"/>
<rect x="102.00" y="1650.80" width="15" height="3.4" rx="1.70" fill="#121212"/>
<rect x="120.00" y="1650.80" width="15" height="3.4" rx="1.70" fill="#121212"/>
<rect x="137.50" y="1650.80" width="15" height="3.4" rx="1.70" fill="#161616"/>
<rect x="156.50" y="1650.80" width="15" height="3.4" rx="1.70" fill="#121212"/>
<rect x="181.50" y="1650.80" width="15" height="3.4" rx="1.70" fill="#0c0c0c"/>
<rect x="199.50" y="1650.80" width="15" height="3.4" rx="1.70" fill="#0c0c0c"/>
<rect x="218.50" y="1650.80" width="15" height="3.4" rx="1.70" fill="#0c0c0c"/>
<rect x="240.00" y="1650.80" width="15" height="3.4" rx="1.70" fill="#0c0c0c"/>
<rect x="258.00" y="1650.80" width="15" height="3.4" rx="1.70" fill="#0c0c0c"/>
<rect x="276.20" y="1650.80" width="15" height="3.4" rx="1.70" fill="#0e0e0e"/>
</g>
<line x1="409.3" y1="864.2" x2="520.5" y2="864.2" stroke="#000" stroke-width="2"/>
<line x1="525.5" y1="864.2" x2="637.7" y2="864.2" stroke="#000" stroke-width="2"/>
<text transform="translate(407.2 886) scale(1 1.04)" font-size="14.8" font-weight="bold" text-anchor="end" fill="#000">kDa</text>
<text transform="translate(435.4 885) scale(1 1.04)" font-size="14.8" font-weight="bold" text-anchor="middle" fill="#000">Ctrl</text>
<text transform="translate(491.5 885) scale(1 1.04)" font-size="14.8" font-weight="bold" text-anchor="middle" fill="#000">PE</text>
<text transform="translate(551.8 885) scale(1 1.04)" font-size="14.8" font-weight="bold" text-anchor="middle" fill="#000">Ctrl</text>
<text transform="translate(612.6 885) scale(1 1.04)" font-size="14.8" font-weight="bold" text-anchor="middle" fill="#000">PE</text>
<text transform="translate(407.2 904.1) scale(1 1.04)" font-size="14.8" font-weight="bold" text-anchor="end" fill="#000">85-100</text>
<text transform="translate(639.6 904.4) scale(1 1.04)" font-size="14.8" font-weight="bold" text-anchor="start" fill="#000">OPA1</text>
<rect x="409.9" y="890.8" width="56.10" height="16.20" fill="#c8c8c8"/>
<rect x="469.9" y="890.8" width="51.70" height="16.20" fill="#c8c8c8"/>
<rect x="524.9" y="890.8" width="55.80" height="16.20" fill="#c8c8c8"/>
<rect x="584.8" y="890.8" width="51.60" height="16.20" fill="#c8c8c8"/>
<g filter="url(#bl)">
<rect x="412.00" y="893.70" width="13" height="2.6" rx="1.30" fill="#808080"/>
<rect x="430.00" y="893.70" width="13" height="2.6" rx="1.30" fill="#808080"/>
<rect x="448.00" y="893.70" width="13" height="2.6" rx="1.30" fill="#a5a5a5"/>
<rect x="472.00" y="893.70" width="13" height="2.6" rx="1.30" fill="#646464"/>
<rect x="488.80" y="893.70" width="13" height="2.6" rx="1.30" fill="#696969"/>
<rect x="507.00" y="893.70" width="13" height="2.6" rx="1.30" fill="#646464"/>
<rect x="527.50" y="893.70" width="13" height="2.6" rx="1.30" fill="#7d7d7d"/>
<rect x="547.00" y="893.70" width="13" height="2.6" rx="1.30" fill="#878787"/>
<rect x="567.00" y="893.70" width="13" height="2.6" rx="1.30" fill="#828282"/>
<rect x="586.00" y="893.70" width="13" height="2.6" rx="1.30" fill="#5a5a5a"/>
<rect x="604.00" y="893.70" width="13" height="2.6" rx="1.30" fill="#696969"/>
<rect x="622.00" y="893.70" width="13" height="2.6" rx="1.30" fill="#a5a5a5"/>
<rect x="412.00" y="899.20" width="13" height="4.2" rx="2.10" fill="#2d2d2d"/>
<rect x="430.00" y="899.20" width="13" height="4.2" rx="2.10" fill="#282828"/>
<rect x="448.00" y="899.20" width="13" height="4.2" rx="2.10" fill="#8c8c8c"/>
<rect x="472.00" y="899.20" width="13" height="4.2" rx="2.10" fill="#161616"/>
<rect x="488.80" y="899.20" width="13" height="4.2" rx="2.10" fill="#191919"/>
<rect x="507.00" y="899.20" width="13" height="4.2" rx="2.10" fill="#161616"/>
<rect x="527.50" y="899.20" width="13" height="4.2" rx="2.10" fill="#5a5a5a"/>
<rect x="547.00" y="899.20" width="13" height="4.2" rx="2.10" fill="#7d7d7d"/>
<rect x="567.00" y="899.20" width="13" height="4.2" rx="2.10" fill="#767676"/>
<rect x="586.00" y="899.20" width="13" height="4.2" rx="2.10" fill="#2d2d2d"/>
<rect x="604.00" y="899.20" width="13" height="4.2" rx="2.10" fill="#505050"/>
<rect x="622.00" y="899.20" width="13" height="4.2" rx="2.10" fill="#8c8c8c"/>
</g>
<text transform="translate(407.2 922) scale(1 1.04)" font-size="14.8" font-weight="bold" text-anchor="end" fill="#000">42</text>
<text transform="translate(639.6 922) scale(1 1.04)" font-size="14.8" font-weight="bold" text-anchor="start" fill="#000">βA</text>
<rect x="409.9" y="911.3" width="56.10" height="12.50" fill="#c8c8c8"/>
<rect x="469.9" y="911.3" width="51.70" height="12.50" fill="#c8c8c8"/>
<rect x="524.9" y="911.3" width="55.80" height="12.50" fill="#c8c8c8"/>
<rect x="584.8" y="911.3" width="51.60" height="12.50" fill="#c8c8c8"/>
<g filter="url(#bl)">
<rect x="412.00" y="915.40" width="13" height="4.0" rx="2.00" fill="#323232"/>
<rect x="430.00" y="915.40" width="13" height="4.0" rx="2.00" fill="#232323"/>
<rect x="448.00" y="915.40" width="13" height="4.0" rx="2.00" fill="#3a3a3a"/>
<rect x="472.00" y="915.40" width="13" height="4.0" rx="2.00" fill="#0c0c0c"/>
<rect x="488.80" y="915.40" width="13" height="4.0" rx="2.00" fill="#0e0e0e"/>
<rect x="507.00" y="915.40" width="13" height="4.0" rx="2.00" fill="#0c0c0c"/>
<rect x="527.50" y="915.40" width="13" height="4.0" rx="2.00" fill="#121212"/>
<rect x="547.00" y="915.40" width="13" height="4.0" rx="2.00" fill="#121212"/>
<rect x="567.00" y="915.40" width="13" height="4.0" rx="2.00" fill="#141414"/>
<rect x="586.00" y="915.40" width="13" height="4.0" rx="2.00" fill="#0e0e0e"/>
<rect x="604.00" y="915.40" width="13" height="4.0" rx="2.00" fill="#121212"/>
<rect x="622.00" y="915.40" width="13" height="4.0" rx="2.00" fill="#121212"/>
</g>
<line x1="409.1" y1="1235" x2="520.5" y2="1235" stroke="#000" stroke-width="2"/>
<line x1="525.6" y1="1235" x2="637.7" y2="1235" stroke="#000" stroke-width="2"/>
<text transform="translate(407.2 1255.3) scale(1 1.04)" font-size="14.8" font-weight="bold" text-anchor="end" fill="#000">kDa</text>
<text transform="translate(435.4 1255.5) scale(1 1.04)" font-size="14.8" font-weight="bold" text-anchor="middle" fill="#000">Ctrl</text>
<text transform="translate(491.5 1255.5) scale(1 1.04)" font-size="14.8" font-weight="bold" text-anchor="middle" fill="#000">PE</text>
<text transform="translate(551.8 1255.5) scale(1 1.04)" font-size="14.8" font-weight="bold" text-anchor="middle" fill="#000">Ctrl</text>
<text transform="translate(612.6 1255.5) scale(1 1.04)" font-size="14.8" font-weight="bold" text-anchor="middle" fill="#000">PE</text>
<text transform="translate(407.2 1274.1) scale(1 1.04)" font-size="14.8" font-weight="bold" text-anchor="end" fill="#000">84</text>
<text transform="translate(638.8 1273.9) scale(1 1.04)" font-size="14.8" font-weight="bold" text-anchor="start" fill="#000">MFN1</text>
<rect x="409.1" y="1259.9" width="55.70" height="16.10" fill="#d2d2d2"/>
<rect x="467.3" y="1259.9" width="53.70" height="16.10" fill="#d2d2d2"/>
<rect x="524.4" y="1259.9" width="55.20" height="16.10" fill="#cecece"/>
<rect x="582.4" y="1259.9" width="54.60" height="16.10" fill="#d0d0d0"/>
<g filter="url(#bl)">
<rect x="411.75" y="1265.20" width="12.5" height="2.6" rx="1.30" fill="#969696"/>
<rect x="429.75" y="1265.20" width="12.5" height="2.6" rx="1.30" fill="#6e6e6e"/>
<rect x="448.25" y="1265.20" width="12.5" height="2.6" rx="1.30" fill="#787878"/>
<rect x="469.75" y="1265.20" width="12.5" height="2.6" rx="1.30" fill="#3c3c3c"/>
<rect x="487.75" y="1265.20" width="12.5" height="2.6" rx="1.30" fill="#696969"/>
<rect x="505.75" y="1265.20" width="12.5" height="2.6" rx="1.30" fill="#2d2d2d"/>
<rect x="526.75" y="1265.20" width="12.5" height="2.6" rx="1.30" fill="#2d2d2d"/>
<rect x="543.75" y="1265.20" width="12.5" height="2.6" rx="1.30" fill="#696969"/>
<rect x="560.75" y="1265.20" width="12.5" height="2.6" rx="1.30" fill="#3c3c3c"/>
<rect x="585.25" y="1265.20" width="12.5" height="2.6" rx="1.30" fill="#3c3c3c"/>
<rect x="602.75" y="1265.20" width="12.5" height="2.6" rx="1.30" fill="#4b4b4b"/>
<rect x="620.25" y="1265.20" width="12.5" height="2.6" rx="1.30" fill="#2d2d2d"/>
<rect x="411.75" y="1268.40" width="12.5" height="2.4" rx="1.20" fill="#aaaaaa"/>
<rect x="429.75" y="1268.40" width="12.5" height="2.4" rx="1.20" fill="#969696"/>
<rect x="448.25" y="1268.40" width="12.5" height="2.4" rx="1.20" fill="#969696"/>
<rect x="469.75" y="1268.40" width="12.5" height="2.4" rx="1.20" fill="#6e6e6e"/>
<rect x="487.75" y="1268.40" width="12.5" height="2.4" rx="1.20" fill="#828282"/>
<rect x="505.75" y="1268.40" width="12.5" height="2.4" rx="1.20" fill="#6e6e6e"/>
<rect x="526.75" y="1268.40" width="12.5" height="2.4" rx="1.20" fill="#787878"/>
<rect x="543.75" y="1268.40" width="12.5" height="2.4" rx="1.20" fill="#8c8c8c"/>
<rect x="560.75" y="1268.40" width="12.5" height="2.4" rx="1.20" fill="#7d7d7d"/>
<rect x="585.25" y="1268.40" width="12.5" height="2.4" rx="1.20" fill="#696969"/>
<rect x="602.75" y="1268.40" width="12.5" height="2.4" rx="1.20" fill="#696969"/>
<rect x="620.25" y="1268.40" width="12.5" height="2.4" rx="1.20" fill="#505050"/>
</g>
<text transform="translate(407.2 1291.5) scale(1 1.04)" font-size="14.8" font-weight="bold" text-anchor="end" fill="#000">42</text>
<text transform="translate(638.8 1291.3) scale(1 1.04)" font-size="14.8" font-weight="bold" text-anchor="start" fill="#000">βA</text>
<rect x="409.1" y="1280.1" width="55.70" height="13.50" fill="#d4d4d4"/>
<rect x="467.3" y="1280.1" width="53.70" height="13.50" fill="#d4d4d4"/>
<rect x="524.4" y="1280.1" width="55.20" height="13.50" fill="#c4c4c4"/>
<rect x="582.4" y="1280.1" width="54.60" height="13.50" fill="#cccccc"/>
<g filter="url(#bl)">
<rect x="411.75" y="1284.80" width="12.5" height="3.8" rx="1.90" fill="#0a0a0a"/>
<rect x="429.75" y="1284.80" width="12.5" height="3.8" rx="1.90" fill="#0a0a0a"/>
<rect x="448.25" y="1284.80" width="12.5" height="3.8" rx="1.90" fill="#080808"/>
<rect x="469.75" y="1284.80" width="12.5" height="3.8" rx="1.90" fill="#060606"/>
<rect x="487.75" y="1284.80" width="12.5" height="3.8" rx="1.90" fill="#060606"/>
<rect x="505.75" y="1284.80" width="12.5" height="3.8" rx="1.90" fill="#060606"/>
<rect x="526.75" y="1284.80" width="12.5" height="3.8" rx="1.90" fill="#505050"/>
<rect x="543.75" y="1284.80" width="12.5" height="3.8" rx="1.90" fill="#3c3c3c"/>
<rect x="560.75" y="1284.80" width="12.5" height="3.8" rx="1.90" fill="#555555"/>
<rect x="585.25" y="1284.80" width="12.5" height="3.8" rx="1.90" fill="#323232"/>
<rect x="602.75" y="1284.80" width="12.5" height="3.8" rx="1.90" fill="#232323"/>
<rect x="620.25" y="1284.80" width="12.5" height="3.8" rx="1.90" fill="#5f5f5f"/>
</g>
<line x1="409.3" y1="1601.3" x2="520.5" y2="1601.3" stroke="#000" stroke-width="2"/>
<line x1="525.5" y1="1601.3" x2="637.7" y2="1601.3" stroke="#000" stroke-width="2"/>
<text transform="translate(407.2 1621.8) scale(1 1.04)" font-size="14.8" font-weight="bold" text-anchor="end" fill="#000">kDa</text>
<text transform="translate(435.4 1621.8) scale(1 1.04)" font-size="14.8" font-weight="bold" text-anchor="middle" fill="#000">Ctrl</text>
<text transform="translate(491.5 1621.8) scale(1 1.04)" font-size="14.8" font-weight="bold" text-anchor="middle" fill="#000">PE</text>
<text transform="translate(551.8 1621.8) scale(1 1.04)" font-size="14.8" font-weight="bold" text-anchor="middle" fill="#000">Ctrl</text>
<text transform="translate(612.6 1621.8) scale(1 1.04)" font-size="14.8" font-weight="bold" text-anchor="middle" fill="#000">PE</text>
<text transform="translate(407.2 1640.9) scale(1 1.04)" font-size="14.8" font-weight="bold" text-anchor="end" fill="#000">86</text>
<text transform="translate(637.5 1639.9) scale(1 1.04)" font-size="14.8" font-weight="bold" text-anchor="start" fill="#000">MFN2</text>
<rect x="409.9" y="1626.1" width="54.10" height="15.90" fill="#bababa"/>
<rect x="468.1" y="1626.1" width="52.90" height="15.90" fill="#c0c0c0"/>
<rect x="524.1" y="1626.1" width="55.70" height="15.90" fill="#bababa"/>
<rect x="584.1" y="1626.1" width="50.90" height="15.90" fill="#b4b4b4"/>
<g filter="url(#bl)">
<rect x="413.00" y="1631.90" width="13" height="3" rx="1.50" fill="#1e1e1e"/>
<rect x="431.00" y="1631.90" width="13" height="3" rx="1.50" fill="#1c1c1c"/>
<rect x="448.50" y="1631.90" width="13" height="3" rx="1.50" fill="#696969"/>
<rect x="471.00" y="1631.90" width="13" height="3" rx="1.50" fill="#2a2a2a"/>
<rect x="487.50" y="1631.90" width="13" height="3" rx="1.50" fill="#0c0c0c"/>
<rect x="505.50" y="1631.90" width="13" height="3" rx="1.50" fill="#0c0c0c"/>
<rect x="527.00" y="1631.90" width="13" height="3" rx="1.50" fill="#a0a0a0"/>
<rect x="544.50" y="1631.90" width="13" height="3" rx="1.50" fill="#696969"/>
<rect x="560.50" y="1631.90" width="13" height="3" rx="1.50" fill="#5a5a5a"/>
<rect x="587.00" y="1631.90" width="13" height="3" rx="1.50" fill="#5a5a5a"/>
<rect x="603.00" y="1631.90" width="13" height="3" rx="1.50" fill="#4b4b4b"/>
<rect x="619.50" y="1631.90" width="13" height="3" rx="1.50" fill="#878787"/>
</g>
<text transform="translate(407.2 1658.3) scale(1 1.04)" font-size="14.8" font-weight="bold" text-anchor="end" fill="#000">42</text>
<text transform="translate(637.5 1658.1) scale(1 1.04)" font-size="14.8" font-weight="bold" text-anchor="start" fill="#000">βA</text>
<rect x="409.9" y="1647.1" width="54.10" height="13.30" fill="#cacaca"/>
<rect x="468.1" y="1647.1" width="52.90" height="13.30" fill="#c4c4c4"/>
<rect x="524.1" y="1647.1" width="55.70" height="13.30" fill="#bebebe"/>
<rect x="584.1" y="1647.1" width="50.90" height="13.30" fill="#bababa"/>
<g filter="url(#bl)">
<rect x="413.00" y="1651.10" width="13" height="4.2" rx="2.10" fill="#060606"/>
<rect x="431.00" y="1651.10" width="13" height="4.2" rx="2.10" fill="#080808"/>
<rect x="448.50" y="1651.10" width="13" height="4.2" rx="2.10" fill="#0a0a0a"/>
<rect x="471.00" y="1651.10" width="13" height="4.2" rx="2.10" fill="#060606"/>
<rect x="487.50" y="1651.10" width="13" height="4.2" rx="2.10" fill="#060606"/>
<rect x="505.50" y="1651.10" width="13" height="4.2" rx="2.10" fill="#060606"/>
<rect x="527.00" y="1651.10" width="13" height="4.2" rx="2.10" fill="#4b4b4b"/>
<rect x="544.50" y="1651.10" width="13" height="4.2" rx="2.10" fill="#4b4b4b"/>
<rect x="560.50" y="1651.10" width="13" height="4.2" rx="2.10" fill="#505050"/>
<rect x="587.00" y="1651.10" width="13" height="4.2" rx="2.10" fill="#3a3a3a"/>
<rect x="603.00" y="1651.10" width="13" height="4.2" rx="2.10" fill="#2d2d2d"/>
<rect x="619.50" y="1651.10" width="13" height="4.2" rx="2.10" fill="#696969"/>
</g>
</g></svg></div></body></html>
